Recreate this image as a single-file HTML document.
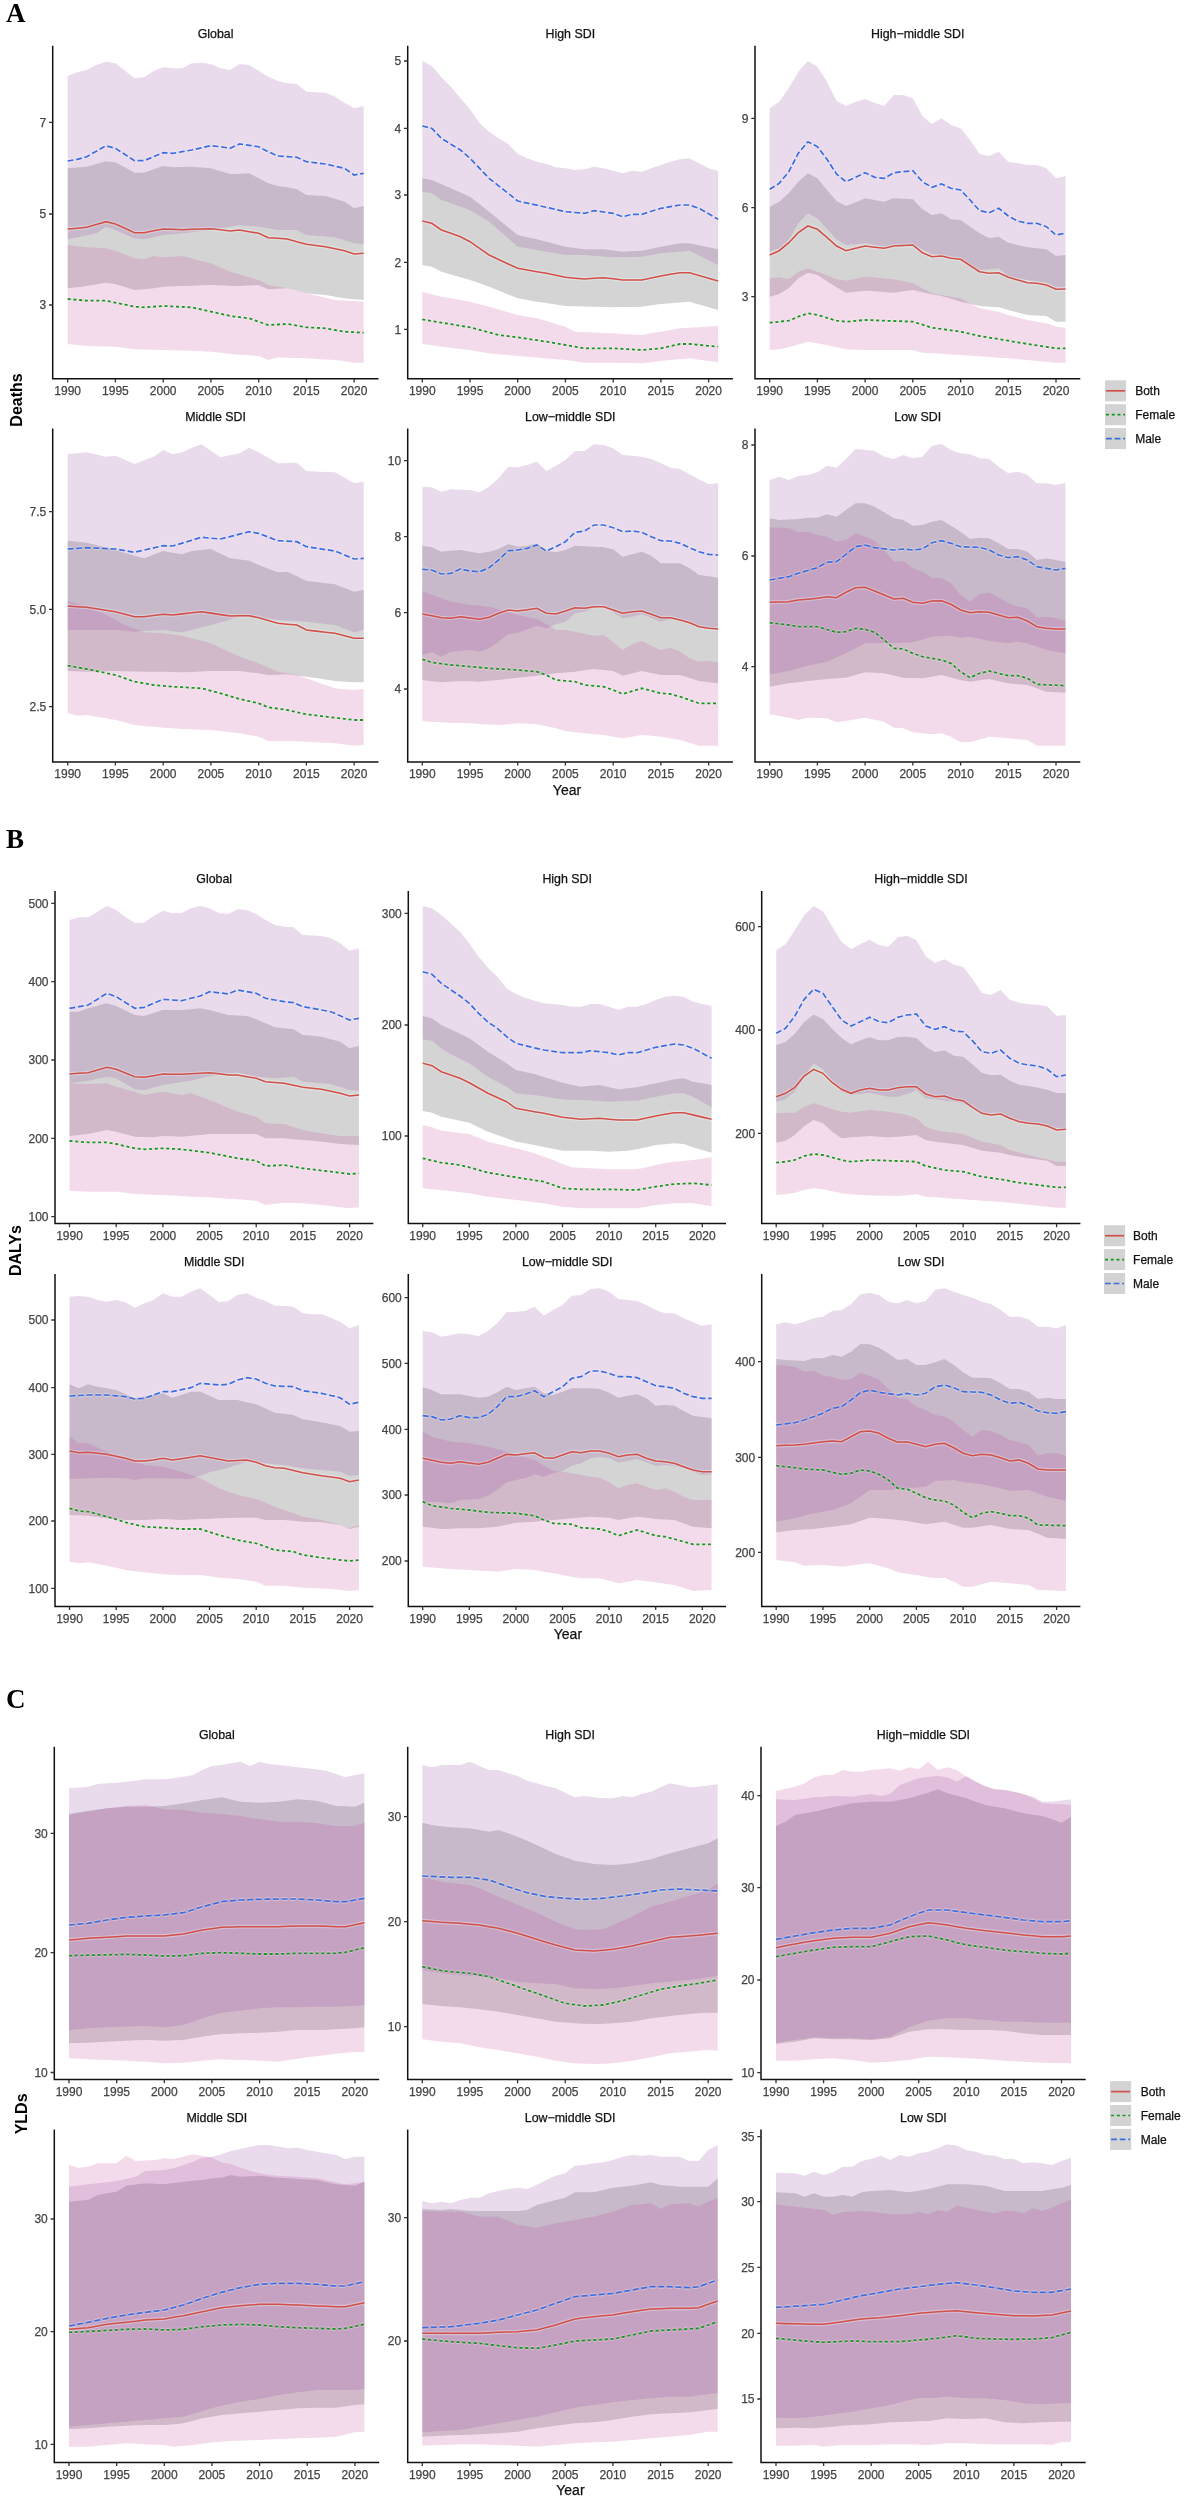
<!DOCTYPE html>
<html><head><meta charset="utf-8"><title>Figure</title><style>
html,body{margin:0;padding:0;background:#fff;}
body{width:1185px;height:2500px;position:relative;overflow:hidden;}
text{font-family:"Liberation Sans",sans-serif;}
.tl{font-size:12px;fill:#444;stroke:#444;stroke-width:0.25px;}
.tt{font-size:12.4px;fill:#111;stroke:#111;stroke-width:0.25px;}
.sl{font-family:"Liberation Serif",serif;font-weight:bold;font-size:27px;fill:#000;}
.yl{font-size:16px;font-weight:bold;fill:#000;}
.xl{font-size:14px;fill:#111;stroke:#111;stroke-width:0.25px;}
.lg{font-size:12px;fill:#111;stroke:#111;stroke-width:0.25px;}
</style></head>
<body>
<svg width="1185" height="2500" viewBox="0 0 1185 2500" style="position:absolute;left:0;top:0;will-change:transform"><g><polygon points="67.7,168.3 77.2,167.5 86.8,166.7 96.3,164.0 105.9,161.3 115.4,162.3 125.0,167.5 134.5,172.7 144.1,172.7 153.6,169.3 163.2,166.0 172.7,167.3 182.3,167.0 191.8,166.7 201.4,167.5 210.9,168.3 220.5,171.2 230.0,174.0 239.6,173.7 249.1,173.3 258.7,178.3 268.2,183.3 277.8,186.0 287.3,187.3 296.9,189.3 306.4,195.0 315.9,195.5 325.5,196.0 335.0,198.8 344.6,201.7 354.1,208.3 363.7,206.0 363.7,300.0 354.1,299.2 344.6,298.3 335.0,296.7 325.5,295.0 315.9,294.2 306.4,293.3 296.9,290.8 287.3,288.3 277.8,288.8 268.2,289.3 258.7,285.0 249.1,285.5 239.6,286.0 230.0,285.7 220.5,285.3 210.9,285.0 201.4,285.3 191.8,285.7 182.3,286.0 172.7,286.3 163.2,286.7 153.6,288.3 144.1,289.2 134.5,290.0 125.0,287.0 115.4,284.0 105.9,282.7 96.3,284.3 86.8,286.0 77.2,287.2 67.7,288.3" fill="#262626" fill-opacity="0.2"/><polygon points="67.7,245.0 77.2,246.2 86.8,247.3 96.3,247.8 105.9,248.3 115.4,250.7 125.0,254.5 134.5,258.3 144.1,259.3 153.6,256.0 163.2,257.3 172.7,256.7 182.3,256.0 191.8,258.4 201.4,260.9 210.9,263.3 220.5,267.5 230.0,271.7 239.6,274.4 249.1,277.2 258.7,280.0 268.2,285.0 277.8,286.7 287.3,288.3 296.9,290.8 306.4,293.3 315.9,295.6 325.5,297.8 335.0,300.0 344.6,300.6 354.1,301.1 363.7,301.7 363.7,362.7 354.1,362.7 344.6,361.3 335.0,360.0 325.5,359.4 315.9,358.9 306.4,358.3 296.9,358.0 287.3,357.7 277.8,357.3 268.2,360.0 258.7,356.0 249.1,355.3 239.6,354.7 230.0,354.0 220.5,352.8 210.9,351.7 201.4,351.2 191.8,350.7 182.3,350.4 172.7,350.2 163.2,350.0 153.6,349.8 144.1,349.6 134.5,349.3 125.0,348.0 115.4,346.7 105.9,346.4 96.3,346.2 86.8,346.0 77.2,345.0 67.7,344.0" fill="#c84b9b" fill-opacity="0.2"/><polygon points="67.7,76.0 77.2,72.3 86.8,70.0 96.3,65.0 105.9,61.7 115.4,63.3 125.0,70.7 134.5,78.3 144.1,77.3 153.6,71.0 163.2,67.3 172.7,68.3 182.3,68.3 191.8,63.3 201.4,62.7 210.9,64.0 220.5,68.3 230.0,70.0 239.6,64.0 249.1,65.0 258.7,70.7 268.2,76.7 277.8,81.0 287.3,83.3 296.9,84.0 306.4,91.7 315.9,92.2 325.5,92.7 335.0,96.7 344.6,102.7 354.1,108.3 363.7,106.0 363.7,244.3 354.1,243.3 344.6,240.3 335.0,237.3 325.5,236.6 315.9,235.8 306.4,235.0 296.9,230.0 287.3,230.0 277.8,230.0 268.2,228.3 258.7,226.7 249.1,225.8 239.6,225.0 230.0,226.7 220.5,228.3 210.9,230.0 201.4,231.1 191.8,232.2 182.3,233.3 172.7,234.2 163.2,235.0 153.6,237.2 144.1,239.3 134.5,238.3 125.0,234.2 115.4,230.0 105.9,226.7 96.3,233.3 86.8,235.3 77.2,237.3 67.7,239.3" fill="#9048a0" fill-opacity="0.2"/><polyline points="67.7,229.0 77.2,228.2 86.8,227.3 96.3,224.5 105.9,221.7 115.4,224.0 125.0,228.3 134.5,232.7 144.1,232.7 153.6,230.8 163.2,229.0 172.7,229.3 182.3,229.7 191.8,229.3 201.4,229.0 210.9,228.7 220.5,229.8 230.0,231.0 239.6,230.0 249.1,231.7 258.7,233.3 268.2,237.7 277.8,238.3 287.3,239.0 296.9,241.7 306.4,244.3 315.9,245.5 325.5,246.7 335.0,248.7 344.6,250.7 354.1,254.0 363.7,253.3" fill="none" stroke="#fff" stroke-opacity="0.3" stroke-width="3.8000000000000003"/><polyline points="67.7,229.0 77.2,228.2 86.8,227.3 96.3,224.5 105.9,221.7 115.4,224.0 125.0,228.3 134.5,232.7 144.1,232.7 153.6,230.8 163.2,229.0 172.7,229.3 182.3,229.7 191.8,229.3 201.4,229.0 210.9,228.7 220.5,229.8 230.0,231.0 239.6,230.0 249.1,231.7 258.7,233.3 268.2,237.7 277.8,238.3 287.3,239.0 296.9,241.7 306.4,244.3 315.9,245.5 325.5,246.7 335.0,248.7 344.6,250.7 354.1,254.0 363.7,253.3" fill="none" stroke="#d0504a" stroke-width="1.6"/><polyline points="67.7,299.0 77.2,299.8 86.8,300.7 96.3,300.7 105.9,300.7 115.4,302.7 125.0,304.7 134.5,306.7 144.1,307.3 153.6,306.7 163.2,306.0 172.7,306.4 182.3,306.9 191.8,307.3 201.4,309.5 210.9,311.7 220.5,313.8 230.0,316.0 239.6,317.2 249.1,318.3 258.7,321.7 268.2,325.0 277.8,324.5 287.3,324.0 296.9,325.7 306.4,327.3 315.9,327.8 325.5,328.3 335.0,330.0 344.6,331.7 354.1,332.2 363.7,332.7" fill="none" stroke="#fff" stroke-opacity="0.3" stroke-width="4.0" stroke-dasharray="3,2.74"/><polyline points="67.7,299.0 77.2,299.8 86.8,300.7 96.3,300.7 105.9,300.7 115.4,302.7 125.0,304.7 134.5,306.7 144.1,307.3 153.6,306.7 163.2,306.0 172.7,306.4 182.3,306.9 191.8,307.3 201.4,309.5 210.9,311.7 220.5,313.8 230.0,316.0 239.6,317.2 249.1,318.3 258.7,321.7 268.2,325.0 277.8,324.5 287.3,324.0 296.9,325.7 306.4,327.3 315.9,327.8 325.5,328.3 335.0,330.0 344.6,331.7 354.1,332.2 363.7,332.7" fill="none" stroke="#16961e" stroke-width="1.8" stroke-dasharray="3,2.74"/><polyline points="67.7,161.0 77.2,159.3 86.8,156.7 96.3,151.2 105.9,145.7 115.4,148.3 125.0,154.5 134.5,160.7 144.1,160.7 153.6,156.7 163.2,152.7 172.7,153.3 182.3,151.7 191.8,150.0 201.4,147.8 210.9,145.7 220.5,146.7 230.0,148.3 239.6,144.0 249.1,145.3 258.7,146.7 268.2,151.7 277.8,156.0 287.3,156.7 296.9,157.3 306.4,161.7 315.9,162.8 325.5,164.0 335.0,166.2 344.6,168.3 354.1,175.0 363.7,173.3" fill="none" stroke="#fff" stroke-opacity="0.3" stroke-width="3.9000000000000004" stroke-dasharray="5.8,2.8"/><polyline points="67.7,161.0 77.2,159.3 86.8,156.7 96.3,151.2 105.9,145.7 115.4,148.3 125.0,154.5 134.5,160.7 144.1,160.7 153.6,156.7 163.2,152.7 172.7,153.3 182.3,151.7 191.8,150.0 201.4,147.8 210.9,145.7 220.5,146.7 230.0,148.3 239.6,144.0 249.1,145.3 258.7,146.7 268.2,151.7 277.8,156.0 287.3,156.7 296.9,157.3 306.4,161.7 315.9,162.8 325.5,164.0 335.0,166.2 344.6,168.3 354.1,175.0 363.7,173.3" fill="none" stroke="#3a6ee0" stroke-width="1.7" stroke-dasharray="5.8,2.8"/><path d="M52.7,45.7 V378.8 H378.5" fill="none" stroke="#111" stroke-width="1.5" stroke-linecap="butt" stroke-linejoin="miter"/><text x="67.7" y="395.1" class="tl" text-anchor="middle">1990</text><text x="115.4" y="395.1" class="tl" text-anchor="middle">1995</text><text x="163.2" y="395.1" class="tl" text-anchor="middle">2000</text><text x="210.9" y="395.1" class="tl" text-anchor="middle">2005</text><text x="258.7" y="395.1" class="tl" text-anchor="middle">2010</text><text x="306.4" y="395.1" class="tl" text-anchor="middle">2015</text><text x="354.1" y="395.1" class="tl" text-anchor="middle">2020</text><text x="46.2" y="126.6" class="tl" text-anchor="end">7</text><text x="46.2" y="218.3" class="tl" text-anchor="end">5</text><text x="46.2" y="309.3" class="tl" text-anchor="end">3</text><path d="M67.7,378.8 v3.7 M115.4,378.8 v3.7 M163.2,378.8 v3.7 M210.9,378.8 v3.7 M258.7,378.8 v3.7 M306.4,378.8 v3.7 M354.1,378.8 v3.7 M52.7,122.3 h-3.7 M52.7,214.0 h-3.7 M52.7,305.0 h-3.7" stroke="#333" stroke-width="1.3"/><text x="215.6" y="37.6" class="tt" text-anchor="middle">Global</text></g><g><polygon points="422.3,178.3 431.8,180.0 441.4,184.2 450.9,188.3 460.5,192.5 470.0,196.7 479.6,204.2 489.1,211.7 498.6,219.4 508.2,227.2 517.7,235.0 527.3,237.2 536.8,239.3 546.4,241.8 555.9,244.2 565.4,246.7 575.0,248.0 584.5,249.3 594.1,249.3 603.6,249.3 613.2,250.5 622.7,251.7 632.2,251.2 641.8,250.7 651.3,248.7 660.9,246.7 670.4,245.0 680.0,243.3 689.5,243.3 699.0,245.3 708.6,247.3 718.1,249.3 718.1,310.0 708.6,307.2 699.0,304.4 689.5,301.7 680.0,302.4 670.4,303.2 660.9,304.0 651.3,305.3 641.8,306.7 632.2,306.9 622.7,307.1 613.2,307.3 603.6,307.0 594.1,306.7 584.5,306.4 575.0,306.2 565.4,306.0 555.9,304.6 546.4,303.1 536.8,301.7 527.3,300.0 517.7,298.3 508.2,294.4 498.6,290.6 489.1,286.7 479.6,283.3 470.0,280.0 460.5,277.2 450.9,274.4 441.4,271.7 431.8,266.7 422.3,265.0" fill="#262626" fill-opacity="0.2"/><polygon points="422.3,291.7 431.8,294.2 441.4,296.7 450.9,298.3 460.5,300.0 470.0,301.7 479.6,304.2 489.1,306.7 498.6,309.4 508.2,312.2 517.7,315.0 527.3,316.7 536.8,318.3 546.4,321.1 555.9,323.9 565.4,326.7 575.0,331.7 584.5,332.1 594.1,332.5 603.6,332.9 613.2,333.3 622.7,333.9 632.2,334.4 641.8,335.0 651.3,333.3 660.9,331.7 670.4,330.0 680.0,328.3 689.5,327.8 699.0,327.2 708.6,326.6 718.1,326.0 718.1,362.3 708.6,361.0 699.0,359.7 689.5,358.3 680.0,359.2 670.4,360.0 660.9,361.1 651.3,362.2 641.8,363.3 632.2,363.1 622.7,362.9 613.2,362.7 603.6,362.7 594.1,362.7 584.5,362.7 575.0,361.3 565.4,360.0 555.9,359.2 546.4,358.4 536.8,357.6 527.3,356.8 517.7,356.0 508.2,355.1 498.6,354.2 489.1,353.3 479.6,351.7 470.0,350.0 460.5,348.9 450.9,347.8 441.4,346.7 431.8,345.3 422.3,344.0" fill="#c84b9b" fill-opacity="0.2"/><polygon points="422.3,61.0 431.8,66.0 441.4,77.3 450.9,86.7 460.5,98.3 470.0,109.3 479.6,123.3 489.1,131.7 498.6,138.3 508.2,144.0 517.7,154.0 527.3,158.3 536.8,161.7 546.4,164.0 555.9,167.3 565.4,168.3 575.0,170.0 584.5,169.3 594.1,166.7 603.6,168.3 613.2,170.7 622.7,173.3 632.2,170.7 641.8,171.7 651.3,168.3 660.9,165.0 670.4,161.7 680.0,159.3 689.5,158.3 699.0,163.3 708.6,168.3 718.1,171.0 718.1,265.0 708.6,260.2 699.0,255.4 689.5,250.7 680.0,251.6 670.4,252.4 660.9,253.3 651.3,255.0 641.8,256.7 632.2,256.9 622.7,257.1 613.2,257.3 603.6,256.6 594.1,255.8 584.5,255.0 575.0,255.0 565.4,255.0 555.9,253.3 546.4,251.7 536.8,250.0 527.3,248.3 517.7,246.7 508.2,238.3 498.6,230.0 489.1,221.7 479.6,215.8 470.0,210.0 460.5,206.7 450.9,203.3 441.4,200.0 431.8,193.3 422.3,191.7" fill="#9048a0" fill-opacity="0.2"/><polyline points="422.3,221.0 431.8,223.3 441.4,230.0 450.9,233.3 460.5,236.7 470.0,241.7 479.6,248.3 489.1,255.0 498.6,259.5 508.2,264.0 517.7,268.3 527.3,270.0 536.8,271.7 546.4,273.3 555.9,275.3 565.4,277.3 575.0,278.2 584.5,279.0 594.1,278.3 603.6,277.7 613.2,278.8 622.7,280.0 632.2,280.0 641.8,280.0 651.3,278.0 660.9,276.0 670.4,274.3 680.0,272.7 689.5,272.7 699.0,275.4 708.6,278.2 718.1,281.0" fill="none" stroke="#fff" stroke-opacity="0.3" stroke-width="3.8000000000000003"/><polyline points="422.3,221.0 431.8,223.3 441.4,230.0 450.9,233.3 460.5,236.7 470.0,241.7 479.6,248.3 489.1,255.0 498.6,259.5 508.2,264.0 517.7,268.3 527.3,270.0 536.8,271.7 546.4,273.3 555.9,275.3 565.4,277.3 575.0,278.2 584.5,279.0 594.1,278.3 603.6,277.7 613.2,278.8 622.7,280.0 632.2,280.0 641.8,280.0 651.3,278.0 660.9,276.0 670.4,274.3 680.0,272.7 689.5,272.7 699.0,275.4 708.6,278.2 718.1,281.0" fill="none" stroke="#d0504a" stroke-width="1.6"/><polyline points="422.3,319.3 431.8,321.0 441.4,322.7 450.9,324.2 460.5,325.8 470.0,327.3 479.6,329.9 489.1,332.4 498.6,335.0 508.2,336.2 517.7,337.3 527.3,338.8 536.8,340.2 546.4,341.7 555.9,343.3 565.4,345.0 575.0,346.7 584.5,348.3 594.1,348.3 603.6,348.3 613.2,348.3 622.7,348.9 632.2,349.4 641.8,350.0 651.3,349.2 660.9,348.3 670.4,346.2 680.0,344.0 689.5,344.0 699.0,344.9 708.6,345.8 718.1,346.7" fill="none" stroke="#fff" stroke-opacity="0.3" stroke-width="4.0" stroke-dasharray="3,2.74"/><polyline points="422.3,319.3 431.8,321.0 441.4,322.7 450.9,324.2 460.5,325.8 470.0,327.3 479.6,329.9 489.1,332.4 498.6,335.0 508.2,336.2 517.7,337.3 527.3,338.8 536.8,340.2 546.4,341.7 555.9,343.3 565.4,345.0 575.0,346.7 584.5,348.3 594.1,348.3 603.6,348.3 613.2,348.3 622.7,348.9 632.2,349.4 641.8,350.0 651.3,349.2 660.9,348.3 670.4,346.2 680.0,344.0 689.5,344.0 699.0,344.9 708.6,345.8 718.1,346.7" fill="none" stroke="#16961e" stroke-width="1.8" stroke-dasharray="3,2.74"/><polyline points="422.3,126.0 431.8,128.3 441.4,138.3 450.9,144.2 460.5,150.0 470.0,158.3 479.6,168.3 489.1,178.3 498.6,185.8 508.2,193.3 517.7,201.0 527.3,203.1 536.8,205.2 546.4,207.3 555.9,209.5 565.4,211.7 575.0,212.5 584.5,213.3 594.1,210.7 603.6,212.0 613.2,213.3 622.7,216.7 632.2,214.3 641.8,214.3 651.3,211.3 660.9,208.3 670.4,206.7 680.0,205.0 689.5,205.0 699.0,208.3 708.6,213.8 718.1,219.3" fill="none" stroke="#fff" stroke-opacity="0.3" stroke-width="3.9000000000000004" stroke-dasharray="5.8,2.8"/><polyline points="422.3,126.0 431.8,128.3 441.4,138.3 450.9,144.2 460.5,150.0 470.0,158.3 479.6,168.3 489.1,178.3 498.6,185.8 508.2,193.3 517.7,201.0 527.3,203.1 536.8,205.2 546.4,207.3 555.9,209.5 565.4,211.7 575.0,212.5 584.5,213.3 594.1,210.7 603.6,212.0 613.2,213.3 622.7,216.7 632.2,214.3 641.8,214.3 651.3,211.3 660.9,208.3 670.4,206.7 680.0,205.0 689.5,205.0 699.0,208.3 708.6,213.8 718.1,219.3" fill="none" stroke="#3a6ee0" stroke-width="1.7" stroke-dasharray="5.8,2.8"/><path d="M407.7,45.7 V378.8 H732.9" fill="none" stroke="#111" stroke-width="1.5" stroke-linecap="butt" stroke-linejoin="miter"/><text x="422.3" y="395.1" class="tl" text-anchor="middle">1990</text><text x="470.0" y="395.1" class="tl" text-anchor="middle">1995</text><text x="517.7" y="395.1" class="tl" text-anchor="middle">2000</text><text x="565.4" y="395.1" class="tl" text-anchor="middle">2005</text><text x="613.2" y="395.1" class="tl" text-anchor="middle">2010</text><text x="660.9" y="395.1" class="tl" text-anchor="middle">2015</text><text x="708.6" y="395.1" class="tl" text-anchor="middle">2020</text><text x="401.2" y="65.3" class="tl" text-anchor="end">5</text><text x="401.2" y="132.6" class="tl" text-anchor="end">4</text><text x="401.2" y="199.3" class="tl" text-anchor="end">3</text><text x="401.2" y="266.6" class="tl" text-anchor="end">2</text><text x="401.2" y="333.6" class="tl" text-anchor="end">1</text><path d="M422.3,378.8 v3.7 M470.0,378.8 v3.7 M517.7,378.8 v3.7 M565.4,378.8 v3.7 M613.2,378.8 v3.7 M660.9,378.8 v3.7 M708.6,378.8 v3.7 M407.7,61.0 h-3.7 M407.7,128.3 h-3.7 M407.7,195.0 h-3.7 M407.7,262.3 h-3.7 M407.7,329.3 h-3.7" stroke="#333" stroke-width="1.3"/><text x="570.3" y="37.6" class="tt" text-anchor="middle">High SDI</text></g><g><polygon points="769.7,206.7 779.2,201.7 788.8,193.3 798.3,181.7 807.9,173.3 817.4,178.3 827.0,190.0 836.5,201.0 846.0,206.0 855.6,202.2 865.1,198.3 874.7,200.0 884.2,201.7 893.8,198.3 903.3,198.8 912.8,199.3 922.4,209.3 931.9,215.0 941.5,213.3 951.0,219.3 960.6,220.0 970.1,226.7 979.6,233.3 989.2,238.3 998.7,236.7 1008.3,242.7 1017.8,245.0 1027.4,247.3 1036.9,248.3 1046.4,249.3 1056.0,256.0 1065.5,255.0 1065.5,321.7 1056.0,321.7 1046.4,316.0 1036.9,315.5 1027.4,315.0 1017.8,312.5 1008.3,310.0 998.7,307.3 989.2,306.7 979.6,306.0 970.1,303.8 960.6,301.7 951.0,298.8 941.5,296.0 931.9,294.3 922.4,292.2 912.8,290.0 903.3,291.3 893.8,292.7 884.2,292.0 874.7,291.3 865.1,290.7 855.6,291.7 846.0,292.7 836.5,287.3 827.0,281.2 817.4,275.0 807.9,272.7 798.3,278.3 788.8,288.3 779.2,294.0 769.7,296.7" fill="#262626" fill-opacity="0.2"/><polygon points="769.7,278.3 779.2,277.3 788.8,279.3 798.3,271.7 807.9,268.3 817.4,271.7 827.0,275.5 836.5,279.3 846.0,280.7 855.6,278.7 865.1,276.7 874.7,277.6 884.2,278.4 893.8,279.3 903.3,281.3 912.8,283.3 922.4,288.3 931.9,293.3 941.5,295.0 951.0,296.7 960.6,298.3 970.1,303.3 979.6,308.3 989.2,310.0 998.7,311.7 1008.3,315.0 1017.8,317.5 1027.4,320.0 1036.9,321.7 1046.4,323.3 1056.0,326.7 1065.5,327.7 1065.5,362.7 1056.0,362.7 1046.4,361.8 1036.9,360.9 1027.4,360.1 1017.8,359.2 1008.3,358.3 998.7,357.7 989.2,357.0 979.6,356.3 970.1,355.7 960.6,355.0 951.0,354.4 941.5,353.8 931.9,353.2 922.4,352.7 912.8,350.0 903.3,350.0 893.8,350.0 884.2,350.0 874.7,350.0 865.1,350.0 855.6,349.7 846.0,349.3 836.5,347.3 827.0,345.3 817.4,343.3 807.9,341.7 798.3,344.5 788.8,347.3 779.2,349.3 769.7,350.0" fill="#c84b9b" fill-opacity="0.2"/><polygon points="769.7,108.3 779.2,101.7 788.8,88.3 798.3,71.7 807.9,61.0 817.4,66.7 827.0,81.7 836.5,100.7 846.0,106.0 855.6,101.7 865.1,99.0 874.7,102.7 884.2,106.0 893.8,95.0 903.3,95.0 912.8,98.3 922.4,116.0 931.9,124.0 941.5,118.3 951.0,125.0 960.6,128.3 970.1,140.0 979.6,154.0 989.2,156.0 998.7,151.7 1008.3,161.7 1017.8,163.3 1027.4,165.0 1036.9,165.0 1046.4,168.3 1056.0,178.3 1065.5,176.0 1065.5,287.3 1056.0,287.3 1046.4,282.7 1036.9,281.3 1027.4,280.0 1017.8,278.3 1008.3,276.7 998.7,268.3 989.2,269.3 979.6,270.0 970.1,264.2 960.6,258.3 951.0,256.7 941.5,255.0 931.9,254.3 922.4,249.7 912.8,245.0 903.3,245.0 893.8,245.0 884.2,246.7 874.7,245.0 865.1,243.3 855.6,244.2 846.0,245.0 836.5,239.3 827.0,228.8 817.4,218.3 807.9,213.3 798.3,223.3 788.8,240.0 779.2,248.3 769.7,251.7" fill="#9048a0" fill-opacity="0.2"/><polyline points="769.7,255.0 779.2,250.7 788.8,242.7 798.3,232.7 807.9,226.0 817.4,229.3 827.0,237.3 836.5,246.0 846.0,250.7 855.6,248.3 865.1,246.0 874.7,247.2 884.2,248.3 893.8,246.0 903.3,245.5 912.8,245.0 922.4,252.7 931.9,256.7 941.5,256.0 951.0,258.3 960.6,259.3 970.1,265.5 979.6,271.7 989.2,273.3 998.7,272.7 1008.3,277.3 1017.8,280.0 1027.4,282.7 1036.9,283.3 1046.4,285.0 1056.0,289.3 1065.5,289.0" fill="none" stroke="#fff" stroke-opacity="0.3" stroke-width="3.8000000000000003"/><polyline points="769.7,255.0 779.2,250.7 788.8,242.7 798.3,232.7 807.9,226.0 817.4,229.3 827.0,237.3 836.5,246.0 846.0,250.7 855.6,248.3 865.1,246.0 874.7,247.2 884.2,248.3 893.8,246.0 903.3,245.5 912.8,245.0 922.4,252.7 931.9,256.7 941.5,256.0 951.0,258.3 960.6,259.3 970.1,265.5 979.6,271.7 989.2,273.3 998.7,272.7 1008.3,277.3 1017.8,280.0 1027.4,282.7 1036.9,283.3 1046.4,285.0 1056.0,289.3 1065.5,289.0" fill="none" stroke="#d0504a" stroke-width="1.6"/><polyline points="769.7,322.7 779.2,321.7 788.8,320.7 798.3,316.7 807.9,313.3 817.4,315.0 827.0,317.8 836.5,320.7 846.0,321.7 855.6,320.8 865.1,320.0 874.7,320.3 884.2,320.7 893.8,321.0 903.3,321.3 912.8,321.7 922.4,324.7 931.9,327.7 941.5,329.0 951.0,330.3 960.6,331.7 970.1,333.8 979.6,336.0 989.2,337.6 998.7,339.1 1008.3,340.7 1017.8,342.3 1027.4,344.0 1036.9,345.4 1046.4,346.9 1056.0,348.3 1065.5,348.3" fill="none" stroke="#fff" stroke-opacity="0.3" stroke-width="4.0" stroke-dasharray="3,2.74"/><polyline points="769.7,322.7 779.2,321.7 788.8,320.7 798.3,316.7 807.9,313.3 817.4,315.0 827.0,317.8 836.5,320.7 846.0,321.7 855.6,320.8 865.1,320.0 874.7,320.3 884.2,320.7 893.8,321.0 903.3,321.3 912.8,321.7 922.4,324.7 931.9,327.7 941.5,329.0 951.0,330.3 960.6,331.7 970.1,333.8 979.6,336.0 989.2,337.6 998.7,339.1 1008.3,340.7 1017.8,342.3 1027.4,344.0 1036.9,345.4 1046.4,346.9 1056.0,348.3 1065.5,348.3" fill="none" stroke="#16961e" stroke-width="1.8" stroke-dasharray="3,2.74"/><polyline points="769.7,189.3 779.2,183.3 788.8,171.7 798.3,153.3 807.9,141.7 817.4,146.7 827.0,159.3 836.5,174.0 846.0,181.7 855.6,177.3 865.1,172.7 874.7,177.3 884.2,178.3 893.8,172.7 903.3,171.7 912.8,170.7 922.4,181.7 931.9,187.3 941.5,184.0 951.0,188.3 960.6,190.0 970.1,200.0 979.6,210.7 989.2,212.7 998.7,208.3 1008.3,216.0 1017.8,221.0 1027.4,223.3 1036.9,223.3 1046.4,226.7 1056.0,235.0 1065.5,233.3" fill="none" stroke="#fff" stroke-opacity="0.3" stroke-width="3.9000000000000004" stroke-dasharray="5.8,2.8"/><polyline points="769.7,189.3 779.2,183.3 788.8,171.7 798.3,153.3 807.9,141.7 817.4,146.7 827.0,159.3 836.5,174.0 846.0,181.7 855.6,177.3 865.1,172.7 874.7,177.3 884.2,178.3 893.8,172.7 903.3,171.7 912.8,170.7 922.4,181.7 931.9,187.3 941.5,184.0 951.0,188.3 960.6,190.0 970.1,200.0 979.6,210.7 989.2,212.7 998.7,208.3 1008.3,216.0 1017.8,221.0 1027.4,223.3 1036.9,223.3 1046.4,226.7 1056.0,235.0 1065.5,233.3" fill="none" stroke="#3a6ee0" stroke-width="1.7" stroke-dasharray="5.8,2.8"/><path d="M755.0,45.7 V378.8 H1080.3" fill="none" stroke="#111" stroke-width="1.5" stroke-linecap="butt" stroke-linejoin="miter"/><text x="769.7" y="395.1" class="tl" text-anchor="middle">1990</text><text x="817.4" y="395.1" class="tl" text-anchor="middle">1995</text><text x="865.1" y="395.1" class="tl" text-anchor="middle">2000</text><text x="912.8" y="395.1" class="tl" text-anchor="middle">2005</text><text x="960.6" y="395.1" class="tl" text-anchor="middle">2010</text><text x="1008.3" y="395.1" class="tl" text-anchor="middle">2015</text><text x="1056.0" y="395.1" class="tl" text-anchor="middle">2020</text><text x="748.5" y="122.6" class="tl" text-anchor="end">9</text><text x="748.5" y="212.0" class="tl" text-anchor="end">6</text><text x="748.5" y="301.0" class="tl" text-anchor="end">3</text><path d="M769.7,378.8 v3.7 M817.4,378.8 v3.7 M865.1,378.8 v3.7 M912.8,378.8 v3.7 M960.6,378.8 v3.7 M1008.3,378.8 v3.7 M1056.0,378.8 v3.7 M755.0,118.3 h-3.7 M755.0,207.7 h-3.7 M755.0,296.7 h-3.7" stroke="#333" stroke-width="1.3"/><text x="917.7" y="37.6" class="tt" text-anchor="middle">High−middle SDI</text></g><g><polygon points="67.7,540.7 77.2,541.7 86.8,542.7 96.3,545.1 105.9,547.6 115.4,550.0 125.0,552.8 134.5,555.7 144.1,558.3 153.6,554.7 163.2,551.0 172.7,552.7 182.3,554.3 191.8,551.0 201.4,550.0 210.9,549.0 220.5,553.7 230.0,558.3 239.6,559.5 249.1,560.7 258.7,565.0 268.2,568.7 277.8,572.3 287.3,571.7 296.9,576.3 306.4,581.0 315.9,582.1 325.5,583.2 335.0,584.3 344.6,588.0 354.1,591.7 363.7,590.0 363.7,682.3 354.1,682.3 344.6,681.7 335.0,681.0 325.5,679.6 315.9,678.1 306.4,676.7 296.9,675.5 287.3,674.3 277.8,674.7 268.2,675.0 258.7,673.3 249.1,672.2 239.6,671.0 230.0,671.0 220.5,671.0 210.9,671.0 201.4,671.4 191.8,671.9 182.3,672.3 172.7,672.0 163.2,671.7 153.6,671.7 144.1,671.7 134.5,671.4 125.0,671.2 115.4,671.0 105.9,671.2 96.3,671.4 86.8,671.7 77.2,671.3 67.7,671.0" fill="#262626" fill-opacity="0.2"/><polygon points="67.7,601.0 77.2,603.8 86.8,606.7 96.3,610.8 105.9,615.0 115.4,620.0 125.0,625.0 134.5,628.7 144.1,632.3 153.6,632.8 163.2,633.3 172.7,634.5 182.3,635.7 191.8,638.2 201.4,640.8 210.9,643.3 220.5,647.8 230.0,652.2 239.6,656.7 249.1,660.0 258.7,663.3 268.2,667.5 277.8,671.7 287.3,673.3 296.9,675.0 306.4,678.3 315.9,681.7 325.5,685.0 335.0,688.3 344.6,689.2 354.1,690.0 363.7,689.0 363.7,745.0 354.1,745.7 344.6,744.5 335.0,743.3 325.5,742.8 315.9,742.2 306.4,741.7 296.9,741.3 287.3,741.0 277.8,741.0 268.2,741.0 258.7,736.7 249.1,735.0 239.6,733.3 230.0,732.2 220.5,731.1 210.9,730.0 201.4,729.7 191.8,729.3 182.3,729.0 172.7,728.3 163.2,727.7 153.6,726.8 144.1,725.9 134.5,725.0 125.0,722.5 115.4,720.0 105.9,718.3 96.3,716.7 86.8,715.0 77.2,715.7 67.7,713.3" fill="#c84b9b" fill-opacity="0.2"/><polygon points="67.7,454.0 77.2,453.2 86.8,452.3 96.3,454.5 105.9,456.7 115.4,455.7 125.0,459.8 134.5,464.0 144.1,460.3 153.6,456.7 163.2,450.0 172.7,454.3 182.3,452.3 191.8,447.7 201.4,444.3 210.9,450.8 220.5,457.3 230.0,455.3 239.6,453.3 249.1,447.7 258.7,452.3 268.2,457.8 277.8,463.3 287.3,463.0 296.9,462.7 306.4,471.0 315.9,471.4 325.5,471.9 335.0,472.3 344.6,477.8 354.1,483.3 363.7,481.7 363.7,630.0 354.1,632.3 344.6,628.7 335.0,625.0 325.5,623.9 315.9,622.8 306.4,621.7 296.9,621.1 287.3,620.6 277.8,620.0 268.2,618.8 258.7,617.7 249.1,617.2 239.6,616.7 230.0,619.4 220.5,622.2 210.9,625.0 201.4,627.4 191.8,629.9 182.3,632.3 172.7,631.2 163.2,630.0 153.6,630.6 144.1,631.1 134.5,631.7 125.0,630.8 115.4,630.0 105.9,630.0 96.3,630.0 86.8,630.0 77.2,630.0 67.7,630.0" fill="#9048a0" fill-opacity="0.2"/><polyline points="67.7,606.0 77.2,606.7 86.8,607.3 96.3,608.8 105.9,610.2 115.4,611.7 125.0,614.2 134.5,616.7 144.1,616.7 153.6,615.5 163.2,614.3 172.7,615.0 182.3,613.9 191.8,612.8 201.4,611.7 210.9,613.1 220.5,614.6 230.0,616.0 239.6,615.8 249.1,615.7 258.7,617.7 268.2,620.5 277.8,623.3 287.3,624.2 296.9,625.0 306.4,630.0 315.9,631.1 325.5,632.2 335.0,633.3 344.6,635.8 354.1,638.3 363.7,638.3" fill="none" stroke="#fff" stroke-opacity="0.3" stroke-width="3.8000000000000003"/><polyline points="67.7,606.0 77.2,606.7 86.8,607.3 96.3,608.8 105.9,610.2 115.4,611.7 125.0,614.2 134.5,616.7 144.1,616.7 153.6,615.5 163.2,614.3 172.7,615.0 182.3,613.9 191.8,612.8 201.4,611.7 210.9,613.1 220.5,614.6 230.0,616.0 239.6,615.8 249.1,615.7 258.7,617.7 268.2,620.5 277.8,623.3 287.3,624.2 296.9,625.0 306.4,630.0 315.9,631.1 325.5,632.2 335.0,633.3 344.6,635.8 354.1,638.3 363.7,638.3" fill="none" stroke="#d0504a" stroke-width="1.6"/><polyline points="67.7,665.7 77.2,667.3 86.8,669.0 96.3,671.0 105.9,673.0 115.4,675.0 125.0,678.3 134.5,681.7 144.1,683.3 153.6,685.0 163.2,685.8 172.7,686.7 182.3,687.2 191.8,687.8 201.4,688.3 210.9,690.8 220.5,693.3 230.0,696.2 239.6,699.0 249.1,701.2 258.7,703.3 268.2,707.3 277.8,708.7 287.3,710.0 296.9,712.2 306.4,714.3 315.9,715.4 325.5,716.6 335.0,717.7 344.6,718.8 354.1,720.0 363.7,720.0" fill="none" stroke="#fff" stroke-opacity="0.3" stroke-width="4.0" stroke-dasharray="3,2.74"/><polyline points="67.7,665.7 77.2,667.3 86.8,669.0 96.3,671.0 105.9,673.0 115.4,675.0 125.0,678.3 134.5,681.7 144.1,683.3 153.6,685.0 163.2,685.8 172.7,686.7 182.3,687.2 191.8,687.8 201.4,688.3 210.9,690.8 220.5,693.3 230.0,696.2 239.6,699.0 249.1,701.2 258.7,703.3 268.2,707.3 277.8,708.7 287.3,710.0 296.9,712.2 306.4,714.3 315.9,715.4 325.5,716.6 335.0,717.7 344.6,718.8 354.1,720.0 363.7,720.0" fill="none" stroke="#16961e" stroke-width="1.8" stroke-dasharray="3,2.74"/><polyline points="67.7,549.0 77.2,548.3 86.8,547.7 96.3,548.1 105.9,548.6 115.4,549.0 125.0,550.7 134.5,552.3 144.1,550.1 153.6,547.9 163.2,545.7 172.7,546.0 182.3,543.1 191.8,540.2 201.4,537.3 210.9,538.2 220.5,539.0 230.0,536.6 239.6,534.1 249.1,531.7 258.7,533.3 268.2,537.0 277.8,540.7 287.3,541.2 296.9,541.7 306.4,546.7 315.9,548.1 325.5,549.6 335.0,551.0 344.6,555.0 354.1,559.0 363.7,558.3" fill="none" stroke="#fff" stroke-opacity="0.3" stroke-width="3.9000000000000004" stroke-dasharray="5.8,2.8"/><polyline points="67.7,549.0 77.2,548.3 86.8,547.7 96.3,548.1 105.9,548.6 115.4,549.0 125.0,550.7 134.5,552.3 144.1,550.1 153.6,547.9 163.2,545.7 172.7,546.0 182.3,543.1 191.8,540.2 201.4,537.3 210.9,538.2 220.5,539.0 230.0,536.6 239.6,534.1 249.1,531.7 258.7,533.3 268.2,537.0 277.8,540.7 287.3,541.2 296.9,541.7 306.4,546.7 315.9,548.1 325.5,549.6 335.0,551.0 344.6,555.0 354.1,559.0 363.7,558.3" fill="none" stroke="#3a6ee0" stroke-width="1.7" stroke-dasharray="5.8,2.8"/><path d="M52.7,428.6 V761.9 H378.5" fill="none" stroke="#111" stroke-width="1.5" stroke-linecap="butt" stroke-linejoin="miter"/><text x="67.7" y="778.2" class="tl" text-anchor="middle">1990</text><text x="115.4" y="778.2" class="tl" text-anchor="middle">1995</text><text x="163.2" y="778.2" class="tl" text-anchor="middle">2000</text><text x="210.9" y="778.2" class="tl" text-anchor="middle">2005</text><text x="258.7" y="778.2" class="tl" text-anchor="middle">2010</text><text x="306.4" y="778.2" class="tl" text-anchor="middle">2015</text><text x="354.1" y="778.2" class="tl" text-anchor="middle">2020</text><text x="46.2" y="516.0" class="tl" text-anchor="end">7.5</text><text x="46.2" y="613.6" class="tl" text-anchor="end">5.0</text><text x="46.2" y="711.0" class="tl" text-anchor="end">2.5</text><path d="M67.7,761.9 v3.7 M115.4,761.9 v3.7 M163.2,761.9 v3.7 M210.9,761.9 v3.7 M258.7,761.9 v3.7 M306.4,761.9 v3.7 M354.1,761.9 v3.7 M52.7,511.7 h-3.7 M52.7,609.3 h-3.7 M52.7,706.7 h-3.7" stroke="#333" stroke-width="1.3"/><text x="215.6" y="420.5" class="tt" text-anchor="middle">Middle SDI</text></g><g><polygon points="422.3,545.7 431.8,547.3 441.4,551.7 450.9,550.8 460.5,550.0 470.0,551.7 479.6,553.3 489.1,551.7 498.6,549.0 508.2,544.0 517.7,546.7 527.3,545.7 536.8,543.3 546.4,550.7 555.9,552.3 565.4,550.0 575.0,545.7 584.5,546.2 594.1,546.7 603.6,547.3 613.2,549.3 622.7,556.7 632.2,554.3 641.8,551.7 651.3,555.7 660.9,563.3 670.4,563.3 680.0,563.3 689.5,568.3 699.0,575.0 708.6,576.3 718.1,577.7 718.1,683.3 708.6,682.2 699.0,681.0 689.5,678.0 680.0,675.0 670.4,675.0 660.9,675.0 651.3,673.0 641.8,671.0 632.2,673.3 622.7,675.7 613.2,671.0 603.6,670.0 594.1,669.0 584.5,670.3 575.0,671.7 565.4,672.5 555.9,673.3 546.4,674.5 536.8,675.7 527.3,676.7 517.7,677.7 508.2,678.8 498.6,680.0 489.1,680.8 479.6,681.7 470.0,681.3 460.5,681.0 450.9,681.7 441.4,682.3 431.8,681.2 422.3,680.0" fill="#262626" fill-opacity="0.2"/><polygon points="422.3,591.0 431.8,595.0 441.4,598.3 450.9,601.7 460.5,603.3 470.0,605.0 479.6,605.8 489.1,606.7 498.6,609.2 508.2,611.7 517.7,615.0 527.3,617.0 536.8,619.0 546.4,624.3 555.9,630.0 565.4,630.0 575.0,631.7 584.5,633.7 594.1,635.7 603.6,635.0 613.2,642.3 622.7,650.0 632.2,644.3 641.8,641.0 651.3,645.7 660.9,650.0 670.4,647.7 680.0,651.7 689.5,658.3 699.0,661.7 708.6,661.0 718.1,662.3 718.1,745.7 708.6,745.7 699.0,745.7 689.5,742.8 680.0,740.0 670.4,738.3 660.9,736.7 651.3,735.8 641.8,735.0 632.2,736.7 622.7,738.3 613.2,736.7 603.6,735.0 594.1,734.2 584.5,733.3 575.0,732.2 565.4,731.0 555.9,728.3 546.4,726.3 536.8,724.3 527.3,723.8 517.7,723.3 508.2,724.2 498.6,725.0 489.1,724.4 479.6,723.9 470.0,723.3 460.5,723.0 450.9,722.7 441.4,722.3 431.8,721.7 422.3,721.0" fill="#c84b9b" fill-opacity="0.2"/><polygon points="422.3,486.7 431.8,487.3 441.4,491.7 450.9,489.3 460.5,489.7 470.0,490.0 479.6,492.3 489.1,486.7 498.6,478.3 508.2,466.7 517.7,467.3 527.3,465.0 536.8,461.7 546.4,471.0 555.9,465.7 565.4,460.0 575.0,451.0 584.5,451.0 594.1,444.3 603.6,445.0 613.2,448.3 622.7,455.0 632.2,455.8 641.8,456.7 651.3,459.0 660.9,463.3 670.4,467.7 680.0,469.0 689.5,474.3 699.0,479.3 708.6,484.3 718.1,483.3 718.1,627.7 708.6,628.3 699.0,626.7 689.5,623.3 680.0,620.0 670.4,619.0 660.9,621.7 651.3,617.7 641.8,614.3 632.2,616.7 622.7,618.3 613.2,612.3 603.6,606.7 594.1,607.7 584.5,611.7 575.0,613.3 565.4,621.7 555.9,624.3 546.4,628.3 536.8,625.7 527.3,629.3 517.7,632.7 508.2,634.3 498.6,641.7 489.1,648.3 479.6,651.7 470.0,650.0 460.5,651.0 450.9,651.7 441.4,656.7 431.8,652.3 422.3,655.0" fill="#9048a0" fill-opacity="0.2"/><polyline points="422.3,614.0 431.8,615.8 441.4,617.7 450.9,618.3 460.5,616.7 470.0,618.0 479.6,619.3 489.1,617.3 498.6,613.3 508.2,610.0 517.7,611.0 527.3,609.7 536.8,608.3 546.4,613.3 555.9,614.0 565.4,611.0 575.0,607.7 584.5,608.3 594.1,606.7 603.6,606.7 613.2,610.0 622.7,613.3 632.2,611.7 641.8,611.0 651.3,614.3 660.9,617.7 670.4,617.7 680.0,620.0 689.5,622.7 699.0,626.7 708.6,628.3 718.1,629.0" fill="none" stroke="#fff" stroke-opacity="0.3" stroke-width="3.8000000000000003"/><polyline points="422.3,614.0 431.8,615.8 441.4,617.7 450.9,618.3 460.5,616.7 470.0,618.0 479.6,619.3 489.1,617.3 498.6,613.3 508.2,610.0 517.7,611.0 527.3,609.7 536.8,608.3 546.4,613.3 555.9,614.0 565.4,611.0 575.0,607.7 584.5,608.3 594.1,606.7 603.6,606.7 613.2,610.0 622.7,613.3 632.2,611.7 641.8,611.0 651.3,614.3 660.9,617.7 670.4,617.7 680.0,620.0 689.5,622.7 699.0,626.7 708.6,628.3 718.1,629.0" fill="none" stroke="#d0504a" stroke-width="1.6"/><polyline points="422.3,659.3 431.8,662.3 441.4,663.7 450.9,665.0 460.5,665.8 470.0,666.7 479.6,667.5 489.1,668.3 498.6,668.9 508.2,669.4 517.7,670.0 527.3,670.8 536.8,671.7 546.4,675.0 555.9,680.0 565.4,680.8 575.0,681.7 584.5,685.0 594.1,685.8 603.6,686.7 613.2,690.0 622.7,694.0 632.2,691.2 641.8,688.3 651.3,690.8 660.9,693.3 670.4,694.0 680.0,696.7 689.5,700.0 699.0,703.3 708.6,703.3 718.1,703.3" fill="none" stroke="#fff" stroke-opacity="0.3" stroke-width="4.0" stroke-dasharray="3,2.74"/><polyline points="422.3,659.3 431.8,662.3 441.4,663.7 450.9,665.0 460.5,665.8 470.0,666.7 479.6,667.5 489.1,668.3 498.6,668.9 508.2,669.4 517.7,670.0 527.3,670.8 536.8,671.7 546.4,675.0 555.9,680.0 565.4,680.8 575.0,681.7 584.5,685.0 594.1,685.8 603.6,686.7 613.2,690.0 622.7,694.0 632.2,691.2 641.8,688.3 651.3,690.8 660.9,693.3 670.4,694.0 680.0,696.7 689.5,700.0 699.0,703.3 708.6,703.3 718.1,703.3" fill="none" stroke="#16961e" stroke-width="1.8" stroke-dasharray="3,2.74"/><polyline points="422.3,569.3 431.8,570.0 441.4,574.0 450.9,573.3 460.5,569.0 470.0,571.0 479.6,571.7 489.1,567.7 498.6,560.0 508.2,550.7 517.7,550.0 527.3,548.3 536.8,545.0 546.4,551.0 555.9,546.7 565.4,541.7 575.0,532.3 584.5,531.0 594.1,525.0 603.6,525.0 613.2,527.7 622.7,531.7 632.2,531.0 641.8,532.3 651.3,536.7 660.9,540.7 670.4,541.0 680.0,543.3 689.5,547.7 699.0,551.7 708.6,554.3 718.1,555.0" fill="none" stroke="#fff" stroke-opacity="0.3" stroke-width="3.9000000000000004" stroke-dasharray="5.8,2.8"/><polyline points="422.3,569.3 431.8,570.0 441.4,574.0 450.9,573.3 460.5,569.0 470.0,571.0 479.6,571.7 489.1,567.7 498.6,560.0 508.2,550.7 517.7,550.0 527.3,548.3 536.8,545.0 546.4,551.0 555.9,546.7 565.4,541.7 575.0,532.3 584.5,531.0 594.1,525.0 603.6,525.0 613.2,527.7 622.7,531.7 632.2,531.0 641.8,532.3 651.3,536.7 660.9,540.7 670.4,541.0 680.0,543.3 689.5,547.7 699.0,551.7 708.6,554.3 718.1,555.0" fill="none" stroke="#3a6ee0" stroke-width="1.7" stroke-dasharray="5.8,2.8"/><path d="M407.7,428.6 V761.9 H732.9" fill="none" stroke="#111" stroke-width="1.5" stroke-linecap="butt" stroke-linejoin="miter"/><text x="422.3" y="778.2" class="tl" text-anchor="middle">1990</text><text x="470.0" y="778.2" class="tl" text-anchor="middle">1995</text><text x="517.7" y="778.2" class="tl" text-anchor="middle">2000</text><text x="565.4" y="778.2" class="tl" text-anchor="middle">2005</text><text x="613.2" y="778.2" class="tl" text-anchor="middle">2010</text><text x="660.9" y="778.2" class="tl" text-anchor="middle">2015</text><text x="708.6" y="778.2" class="tl" text-anchor="middle">2020</text><text x="401.2" y="465.0" class="tl" text-anchor="end">10</text><text x="401.2" y="541.0" class="tl" text-anchor="end">8</text><text x="401.2" y="617.0" class="tl" text-anchor="end">6</text><text x="401.2" y="693.3" class="tl" text-anchor="end">4</text><path d="M422.3,761.9 v3.7 M470.0,761.9 v3.7 M517.7,761.9 v3.7 M565.4,761.9 v3.7 M613.2,761.9 v3.7 M660.9,761.9 v3.7 M708.6,761.9 v3.7 M407.7,460.7 h-3.7 M407.7,536.7 h-3.7 M407.7,612.7 h-3.7 M407.7,689.0 h-3.7" stroke="#333" stroke-width="1.3"/><text x="570.3" y="420.5" class="tt" text-anchor="middle">Low−middle SDI</text></g><g><polygon points="769.7,518.3 779.2,520.0 788.8,519.5 798.3,519.0 807.9,517.7 817.4,517.7 827.0,514.3 836.5,516.7 846.0,510.0 855.6,503.3 865.1,503.3 874.7,506.7 884.2,512.3 893.8,518.3 903.3,520.0 912.8,525.7 922.4,525.0 931.9,521.7 941.5,520.0 951.0,525.7 960.6,531.7 970.1,539.0 979.6,537.7 989.2,538.3 998.7,543.3 1008.3,549.0 1017.8,549.0 1027.4,551.7 1036.9,560.0 1046.4,558.3 1056.0,560.0 1065.5,561.7 1065.5,692.7 1056.0,692.2 1046.4,691.7 1036.9,688.3 1027.4,685.0 1017.8,684.2 1008.3,683.3 998.7,681.2 989.2,679.0 979.6,680.3 970.1,681.7 960.6,680.0 951.0,677.5 941.5,675.0 931.9,676.7 922.4,678.3 912.8,678.0 903.3,677.7 893.8,675.5 884.2,673.3 874.7,672.8 865.1,672.3 855.6,675.0 846.0,677.7 836.5,678.3 827.0,679.0 817.4,680.0 807.9,681.0 798.3,682.2 788.8,683.3 779.2,685.0 769.7,686.7" fill="#262626" fill-opacity="0.2"/><polygon points="769.7,527.3 779.2,527.8 788.8,528.3 798.3,532.3 807.9,531.7 817.4,535.0 827.0,536.7 836.5,541.7 846.0,540.0 855.6,533.3 865.1,536.7 874.7,540.7 884.2,550.0 893.8,561.7 903.3,561.0 912.8,568.3 922.4,571.7 931.9,577.7 941.5,578.3 951.0,583.3 960.6,595.0 970.1,601.7 979.6,594.0 989.2,592.7 998.7,597.7 1008.3,603.3 1017.8,606.7 1027.4,608.3 1036.9,617.7 1046.4,616.7 1056.0,618.3 1065.5,621.0 1065.5,745.7 1056.0,745.7 1046.4,745.7 1036.9,745.7 1027.4,740.0 1017.8,739.2 1008.3,738.3 998.7,737.5 989.2,736.7 979.6,739.5 970.1,742.3 960.6,742.3 951.0,736.7 941.5,733.3 931.9,734.3 922.4,733.3 912.8,732.3 903.3,728.3 893.8,727.7 884.2,721.7 874.7,719.7 865.1,717.7 855.6,719.3 846.0,721.0 836.5,722.3 827.0,718.3 817.4,718.0 807.9,717.7 798.3,720.0 788.8,717.7 779.2,716.0 769.7,714.3" fill="#c84b9b" fill-opacity="0.2"/><polygon points="769.7,480.0 779.2,476.7 788.8,480.0 798.3,476.0 807.9,475.0 817.4,472.3 827.0,465.7 836.5,467.7 846.0,459.0 855.6,449.0 865.1,450.0 874.7,451.0 884.2,456.7 893.8,459.0 903.3,455.0 912.8,458.3 922.4,456.7 931.9,445.7 941.5,444.0 951.0,450.0 960.6,453.3 970.1,454.3 979.6,458.3 989.2,459.0 998.7,466.7 1008.3,473.3 1017.8,471.7 1027.4,475.0 1036.9,483.3 1046.4,483.3 1056.0,485.0 1065.5,482.7 1065.5,653.3 1056.0,651.7 1046.4,650.0 1036.9,646.7 1027.4,643.3 1017.8,641.7 1008.3,643.3 998.7,642.2 989.2,641.0 979.6,638.8 970.1,636.7 960.6,637.7 951.0,635.7 941.5,636.2 931.9,636.7 922.4,639.5 912.8,642.3 903.3,642.8 893.8,643.3 884.2,643.3 874.7,643.3 865.1,643.3 855.6,648.3 846.0,653.3 836.5,657.5 827.0,661.7 817.4,663.7 807.9,665.7 798.3,668.3 788.8,671.0 779.2,672.7 769.7,674.3" fill="#9048a0" fill-opacity="0.2"/><polyline points="769.7,602.3 779.2,602.0 788.8,601.7 798.3,600.0 807.9,599.2 817.4,598.3 827.0,596.7 836.5,597.7 846.0,592.3 855.6,587.7 865.1,587.3 874.7,591.0 884.2,595.0 893.8,599.0 903.3,598.3 912.8,602.3 922.4,603.3 931.9,601.0 941.5,600.7 951.0,604.3 960.6,610.0 970.1,612.7 979.6,611.7 989.2,612.3 998.7,615.0 1008.3,617.7 1017.8,617.3 1027.4,621.0 1036.9,626.7 1046.4,628.3 1056.0,629.0 1065.5,629.0" fill="none" stroke="#fff" stroke-opacity="0.3" stroke-width="3.8000000000000003"/><polyline points="769.7,602.3 779.2,602.0 788.8,601.7 798.3,600.0 807.9,599.2 817.4,598.3 827.0,596.7 836.5,597.7 846.0,592.3 855.6,587.7 865.1,587.3 874.7,591.0 884.2,595.0 893.8,599.0 903.3,598.3 912.8,602.3 922.4,603.3 931.9,601.0 941.5,600.7 951.0,604.3 960.6,610.0 970.1,612.7 979.6,611.7 989.2,612.3 998.7,615.0 1008.3,617.7 1017.8,617.3 1027.4,621.0 1036.9,626.7 1046.4,628.3 1056.0,629.0 1065.5,629.0" fill="none" stroke="#d0504a" stroke-width="1.6"/><polyline points="769.7,622.7 779.2,623.8 788.8,625.0 798.3,626.7 807.9,626.7 817.4,626.7 827.0,629.5 836.5,632.3 846.0,631.7 855.6,628.3 865.1,629.3 874.7,632.3 884.2,640.0 893.8,648.3 903.3,649.0 912.8,653.3 922.4,656.7 931.9,658.3 941.5,660.0 951.0,663.3 960.6,671.7 970.1,677.7 979.6,673.3 989.2,671.0 998.7,673.3 1008.3,675.7 1017.8,675.7 1027.4,678.3 1036.9,684.3 1046.4,684.8 1056.0,685.2 1065.5,685.7" fill="none" stroke="#fff" stroke-opacity="0.3" stroke-width="4.0" stroke-dasharray="3,2.74"/><polyline points="769.7,622.7 779.2,623.8 788.8,625.0 798.3,626.7 807.9,626.7 817.4,626.7 827.0,629.5 836.5,632.3 846.0,631.7 855.6,628.3 865.1,629.3 874.7,632.3 884.2,640.0 893.8,648.3 903.3,649.0 912.8,653.3 922.4,656.7 931.9,658.3 941.5,660.0 951.0,663.3 960.6,671.7 970.1,677.7 979.6,673.3 989.2,671.0 998.7,673.3 1008.3,675.7 1017.8,675.7 1027.4,678.3 1036.9,684.3 1046.4,684.8 1056.0,685.2 1065.5,685.7" fill="none" stroke="#16961e" stroke-width="1.8" stroke-dasharray="3,2.74"/><polyline points="769.7,580.0 779.2,578.3 788.8,576.7 798.3,573.3 807.9,570.5 817.4,567.7 827.0,562.3 836.5,561.7 846.0,554.3 855.6,546.7 865.1,545.0 874.7,547.7 884.2,548.8 893.8,550.0 903.3,549.0 912.8,550.0 922.4,549.0 931.9,542.7 941.5,540.7 951.0,543.3 960.6,546.7 970.1,547.0 979.6,547.3 989.2,550.0 998.7,555.0 1008.3,557.7 1017.8,556.7 1027.4,560.0 1036.9,566.7 1046.4,568.3 1056.0,570.0 1065.5,568.3" fill="none" stroke="#fff" stroke-opacity="0.3" stroke-width="3.9000000000000004" stroke-dasharray="5.8,2.8"/><polyline points="769.7,580.0 779.2,578.3 788.8,576.7 798.3,573.3 807.9,570.5 817.4,567.7 827.0,562.3 836.5,561.7 846.0,554.3 855.6,546.7 865.1,545.0 874.7,547.7 884.2,548.8 893.8,550.0 903.3,549.0 912.8,550.0 922.4,549.0 931.9,542.7 941.5,540.7 951.0,543.3 960.6,546.7 970.1,547.0 979.6,547.3 989.2,550.0 998.7,555.0 1008.3,557.7 1017.8,556.7 1027.4,560.0 1036.9,566.7 1046.4,568.3 1056.0,570.0 1065.5,568.3" fill="none" stroke="#3a6ee0" stroke-width="1.7" stroke-dasharray="5.8,2.8"/><path d="M755.0,428.6 V761.9 H1080.3" fill="none" stroke="#111" stroke-width="1.5" stroke-linecap="butt" stroke-linejoin="miter"/><text x="769.7" y="778.2" class="tl" text-anchor="middle">1990</text><text x="817.4" y="778.2" class="tl" text-anchor="middle">1995</text><text x="865.1" y="778.2" class="tl" text-anchor="middle">2000</text><text x="912.8" y="778.2" class="tl" text-anchor="middle">2005</text><text x="960.6" y="778.2" class="tl" text-anchor="middle">2010</text><text x="1008.3" y="778.2" class="tl" text-anchor="middle">2015</text><text x="1056.0" y="778.2" class="tl" text-anchor="middle">2020</text><text x="748.5" y="449.3" class="tl" text-anchor="end">8</text><text x="748.5" y="560.3" class="tl" text-anchor="end">6</text><text x="748.5" y="671.0" class="tl" text-anchor="end">4</text><path d="M769.7,761.9 v3.7 M817.4,761.9 v3.7 M865.1,761.9 v3.7 M912.8,761.9 v3.7 M960.6,761.9 v3.7 M1008.3,761.9 v3.7 M1056.0,761.9 v3.7 M755.0,445.0 h-3.7 M755.0,556.0 h-3.7 M755.0,666.7 h-3.7" stroke="#333" stroke-width="1.3"/><text x="917.7" y="420.5" class="tt" text-anchor="middle">Low SDI</text></g><g><polygon points="69.5,1011.7 78.8,1011.7 88.2,1008.3 97.5,1005.8 106.8,1003.3 116.2,1006.0 125.5,1010.5 134.8,1015.0 144.2,1016.0 153.5,1013.0 162.9,1010.0 172.2,1010.0 181.5,1010.0 190.9,1009.2 200.2,1008.3 209.5,1010.0 218.9,1012.5 228.2,1015.0 237.5,1015.5 246.9,1016.0 256.2,1019.3 265.5,1023.3 274.9,1027.3 284.2,1028.3 293.5,1029.3 302.9,1035.0 312.2,1035.8 321.5,1036.7 330.9,1039.2 340.2,1041.7 349.6,1048.3 358.9,1046.0 358.9,1145.0 349.6,1144.5 340.2,1144.0 330.9,1142.8 321.5,1141.7 312.2,1140.8 302.9,1140.0 293.5,1139.2 284.2,1138.3 274.9,1138.3 265.5,1138.3 256.2,1134.0 246.9,1134.0 237.5,1134.0 228.2,1134.0 218.9,1134.0 209.5,1134.0 200.2,1134.9 190.9,1135.8 181.5,1136.7 172.2,1136.3 162.9,1136.0 153.5,1137.3 144.2,1137.0 134.8,1136.7 125.5,1134.2 116.2,1131.7 106.8,1130.0 97.5,1132.0 88.2,1134.0 78.8,1135.0 69.5,1136.0" fill="#262626" fill-opacity="0.2"/><polygon points="69.5,1083.3 78.8,1083.7 88.2,1084.0 97.5,1083.7 106.8,1083.3 116.2,1086.7 125.5,1089.2 134.8,1091.7 144.2,1095.0 153.5,1093.3 162.9,1091.7 172.2,1093.3 181.5,1095.0 190.9,1093.3 200.2,1096.7 209.5,1100.0 218.9,1103.9 228.2,1107.8 237.5,1111.7 246.9,1114.2 256.2,1116.7 265.5,1123.3 274.9,1123.7 284.2,1124.0 293.5,1127.0 302.9,1130.0 312.2,1131.7 321.5,1133.3 330.9,1134.7 340.2,1136.0 349.6,1136.0 358.9,1136.0 358.9,1207.3 349.6,1208.3 340.2,1207.2 330.9,1206.0 321.5,1205.1 312.2,1204.2 302.9,1203.3 293.5,1203.0 284.2,1202.7 274.9,1203.8 265.5,1205.0 256.2,1200.7 246.9,1200.0 237.5,1199.3 228.2,1198.7 218.9,1198.0 209.5,1197.3 200.2,1197.0 190.9,1196.7 181.5,1196.1 172.2,1195.6 162.9,1195.0 153.5,1194.7 144.2,1194.3 134.8,1194.0 125.5,1192.8 116.2,1191.7 106.8,1191.7 97.5,1191.7 88.2,1191.7 78.8,1191.2 69.5,1190.7" fill="#c84b9b" fill-opacity="0.2"/><polygon points="69.5,920.0 78.8,917.3 88.2,917.3 97.5,911.7 106.8,906.0 116.2,910.0 125.5,917.3 134.8,922.7 144.2,922.7 153.5,916.0 162.9,910.7 172.2,913.3 181.5,913.3 190.9,908.3 200.2,906.0 209.5,908.3 218.9,913.3 228.2,914.0 237.5,909.3 246.9,910.0 256.2,914.0 265.5,920.0 274.9,925.0 284.2,926.7 293.5,927.3 302.9,935.0 312.2,935.5 321.5,936.0 330.9,938.3 340.2,943.3 349.6,950.7 358.9,948.3 358.9,1090.7 349.6,1090.0 340.2,1087.0 330.9,1084.0 321.5,1083.2 312.2,1082.4 302.9,1081.7 293.5,1076.7 284.2,1077.5 274.9,1078.3 265.5,1077.5 256.2,1076.7 246.9,1074.7 237.5,1072.7 228.2,1073.8 218.9,1074.9 209.5,1076.0 200.2,1078.3 190.9,1080.7 181.5,1082.1 172.2,1083.6 162.9,1085.0 153.5,1087.5 144.2,1090.0 134.8,1089.3 125.5,1083.8 116.2,1078.3 106.8,1076.7 97.5,1078.7 88.2,1080.7 78.8,1082.0 69.5,1083.3" fill="#9048a0" fill-opacity="0.2"/><polyline points="69.5,1074.0 78.8,1073.3 88.2,1072.7 97.5,1070.0 106.8,1067.3 116.2,1069.3 125.5,1073.0 134.8,1076.7 144.2,1077.3 153.5,1075.7 162.9,1074.0 172.2,1074.2 181.5,1074.3 190.9,1073.8 200.2,1073.2 209.5,1072.7 218.9,1073.8 228.2,1075.0 237.5,1075.0 246.9,1076.7 256.2,1078.3 265.5,1081.7 274.9,1082.5 284.2,1083.3 293.5,1085.3 302.9,1087.3 312.2,1088.3 321.5,1089.3 330.9,1091.3 340.2,1093.3 349.6,1096.0 358.9,1095.0" fill="none" stroke="#fff" stroke-opacity="0.3" stroke-width="3.8000000000000003"/><polyline points="69.5,1074.0 78.8,1073.3 88.2,1072.7 97.5,1070.0 106.8,1067.3 116.2,1069.3 125.5,1073.0 134.8,1076.7 144.2,1077.3 153.5,1075.7 162.9,1074.0 172.2,1074.2 181.5,1074.3 190.9,1073.8 200.2,1073.2 209.5,1072.7 218.9,1073.8 228.2,1075.0 237.5,1075.0 246.9,1076.7 256.2,1078.3 265.5,1081.7 274.9,1082.5 284.2,1083.3 293.5,1085.3 302.9,1087.3 312.2,1088.3 321.5,1089.3 330.9,1091.3 340.2,1093.3 349.6,1096.0 358.9,1095.0" fill="none" stroke="#d0504a" stroke-width="1.6"/><polyline points="69.5,1141.0 78.8,1141.7 88.2,1142.3 97.5,1142.3 106.8,1142.3 116.2,1144.0 125.5,1146.2 134.8,1148.3 144.2,1149.3 153.5,1148.8 162.9,1148.3 172.2,1148.8 181.5,1149.3 190.9,1150.4 200.2,1151.6 209.5,1152.7 218.9,1154.6 228.2,1156.4 237.5,1158.3 246.9,1159.5 256.2,1160.7 265.5,1166.0 274.9,1165.5 284.2,1165.0 293.5,1166.7 302.9,1168.3 312.2,1169.4 321.5,1170.6 330.9,1171.7 340.2,1172.8 349.6,1174.0 358.9,1173.3" fill="none" stroke="#fff" stroke-opacity="0.3" stroke-width="4.0" stroke-dasharray="3,2.74"/><polyline points="69.5,1141.0 78.8,1141.7 88.2,1142.3 97.5,1142.3 106.8,1142.3 116.2,1144.0 125.5,1146.2 134.8,1148.3 144.2,1149.3 153.5,1148.8 162.9,1148.3 172.2,1148.8 181.5,1149.3 190.9,1150.4 200.2,1151.6 209.5,1152.7 218.9,1154.6 228.2,1156.4 237.5,1158.3 246.9,1159.5 256.2,1160.7 265.5,1166.0 274.9,1165.5 284.2,1165.0 293.5,1166.7 302.9,1168.3 312.2,1169.4 321.5,1170.6 330.9,1171.7 340.2,1172.8 349.6,1174.0 358.9,1173.3" fill="none" stroke="#16961e" stroke-width="1.8" stroke-dasharray="3,2.74"/><polyline points="69.5,1008.3 78.8,1006.7 88.2,1005.0 97.5,999.2 106.8,993.3 116.2,996.7 125.5,1002.5 134.8,1008.3 144.2,1007.3 153.5,1003.3 162.9,999.3 172.2,1000.0 181.5,1000.7 190.9,998.3 200.2,996.0 209.5,991.7 218.9,992.8 228.2,994.0 237.5,990.0 246.9,991.7 256.2,993.3 265.5,998.3 274.9,1000.0 284.2,1001.7 293.5,1002.7 302.9,1006.7 312.2,1008.3 321.5,1010.0 330.9,1011.7 340.2,1015.8 349.6,1020.0 358.9,1018.3" fill="none" stroke="#fff" stroke-opacity="0.3" stroke-width="3.9000000000000004" stroke-dasharray="5.8,2.8"/><polyline points="69.5,1008.3 78.8,1006.7 88.2,1005.0 97.5,999.2 106.8,993.3 116.2,996.7 125.5,1002.5 134.8,1008.3 144.2,1007.3 153.5,1003.3 162.9,999.3 172.2,1000.0 181.5,1000.7 190.9,998.3 200.2,996.0 209.5,991.7 218.9,992.8 228.2,994.0 237.5,990.0 246.9,991.7 256.2,993.3 265.5,998.3 274.9,1000.0 284.2,1001.7 293.5,1002.7 302.9,1006.7 312.2,1008.3 321.5,1010.0 330.9,1011.7 340.2,1015.8 349.6,1020.0 358.9,1018.3" fill="none" stroke="#3a6ee0" stroke-width="1.7" stroke-dasharray="5.8,2.8"/><path d="M55.0,891.0 V1223.5 H373.4" fill="none" stroke="#111" stroke-width="1.5" stroke-linecap="butt" stroke-linejoin="miter"/><text x="69.5" y="1239.8" class="tl" text-anchor="middle">1990</text><text x="116.2" y="1239.8" class="tl" text-anchor="middle">1995</text><text x="162.9" y="1239.8" class="tl" text-anchor="middle">2000</text><text x="209.5" y="1239.8" class="tl" text-anchor="middle">2005</text><text x="256.2" y="1239.8" class="tl" text-anchor="middle">2010</text><text x="302.9" y="1239.8" class="tl" text-anchor="middle">2015</text><text x="349.6" y="1239.8" class="tl" text-anchor="middle">2020</text><text x="48.5" y="907.6" class="tl" text-anchor="end">500</text><text x="48.5" y="986.0" class="tl" text-anchor="end">400</text><text x="48.5" y="1064.3" class="tl" text-anchor="end">300</text><text x="48.5" y="1142.6" class="tl" text-anchor="end">200</text><text x="48.5" y="1220.9" class="tl" text-anchor="end">100</text><path d="M69.5,1223.5 v3.7 M116.2,1223.5 v3.7 M162.9,1223.5 v3.7 M209.5,1223.5 v3.7 M256.2,1223.5 v3.7 M302.9,1223.5 v3.7 M349.6,1223.5 v3.7 M55.0,903.3 h-3.7 M55.0,981.7 h-3.7 M55.0,1060.0 h-3.7 M55.0,1138.3 h-3.7 M55.0,1216.6 h-3.7" stroke="#333" stroke-width="1.3"/><text x="214.2" y="882.9" class="tt" text-anchor="middle">Global</text></g><g><polygon points="422.7,1016.0 432.0,1018.3 441.3,1025.0 450.7,1029.3 460.0,1033.8 469.3,1038.3 478.6,1045.0 487.9,1051.7 497.3,1057.5 506.6,1063.3 515.9,1070.0 525.2,1072.0 534.5,1074.0 543.9,1076.9 553.2,1079.8 562.5,1082.7 571.8,1084.7 581.1,1086.7 590.5,1085.8 599.8,1085.0 609.1,1087.2 618.4,1089.3 627.7,1088.3 637.1,1087.3 646.4,1085.3 655.7,1083.3 665.0,1081.3 674.3,1079.3 683.7,1078.3 693.0,1081.7 702.3,1083.3 711.6,1085.0 711.6,1152.7 702.3,1150.0 693.0,1147.3 683.7,1144.0 674.3,1143.3 665.0,1144.2 655.7,1145.0 646.4,1147.2 637.1,1149.3 627.7,1150.7 618.4,1151.2 609.1,1151.7 599.8,1151.2 590.5,1150.7 581.1,1150.7 571.8,1150.7 562.5,1150.7 553.2,1148.8 543.9,1146.9 534.5,1145.0 525.2,1143.3 515.9,1141.7 506.6,1138.3 497.3,1135.0 487.9,1131.7 478.6,1127.2 469.3,1122.7 460.0,1120.7 450.7,1118.7 441.3,1116.7 432.0,1112.7 422.7,1111.0" fill="#262626" fill-opacity="0.2"/><polygon points="422.7,1125.0 432.0,1127.3 441.3,1130.7 450.7,1131.8 460.0,1132.9 469.3,1134.0 478.6,1137.8 487.9,1141.7 497.3,1143.9 506.6,1146.1 515.9,1148.3 525.2,1150.8 534.5,1153.3 543.9,1156.7 553.2,1160.0 562.5,1164.0 571.8,1167.3 581.1,1167.8 590.5,1168.3 599.8,1168.8 609.1,1169.3 618.4,1169.3 627.7,1169.3 637.1,1169.3 646.4,1167.2 655.7,1165.0 665.0,1163.3 674.3,1161.7 683.7,1160.8 693.0,1160.0 702.3,1158.7 711.6,1157.3 711.6,1206.0 702.3,1204.7 693.0,1203.3 683.7,1203.3 674.3,1203.3 665.0,1204.2 655.7,1205.0 646.4,1206.7 637.1,1208.3 627.7,1208.3 618.4,1208.3 609.1,1208.3 599.8,1208.3 590.5,1208.3 581.1,1208.3 571.8,1207.5 562.5,1206.7 553.2,1205.0 543.9,1203.3 534.5,1202.2 525.2,1201.1 515.9,1200.0 506.6,1198.9 497.3,1197.8 487.9,1196.7 478.6,1195.0 469.3,1193.3 460.0,1192.2 450.7,1191.1 441.3,1190.0 432.0,1189.2 422.7,1188.3" fill="#c84b9b" fill-opacity="0.2"/><polygon points="422.7,906.0 432.0,908.3 441.3,915.0 450.7,923.3 460.0,931.7 469.3,943.3 478.6,956.7 487.9,967.7 497.3,976.7 506.6,988.3 515.9,994.0 525.2,997.7 534.5,1000.7 543.9,1003.3 553.2,1004.0 562.5,1005.0 571.8,1006.7 581.1,1006.7 590.5,1004.0 599.8,1004.0 609.1,1006.7 618.4,1010.0 627.7,1006.7 637.1,1006.7 646.4,1004.0 655.7,1000.0 665.0,996.7 674.3,995.7 683.7,996.7 693.0,1001.7 702.3,1004.0 711.6,1006.0 711.6,1107.3 702.3,1102.0 693.0,1096.7 683.7,1093.3 674.3,1093.3 665.0,1095.0 655.7,1096.7 646.4,1098.7 637.1,1100.7 627.7,1100.7 618.4,1101.2 609.1,1101.7 599.8,1101.1 590.5,1100.6 581.1,1100.0 571.8,1099.7 562.5,1099.3 553.2,1097.9 543.9,1096.4 534.5,1095.0 525.2,1094.2 515.9,1093.3 506.6,1086.7 497.3,1081.7 487.9,1076.7 478.6,1070.0 469.3,1063.3 460.0,1058.7 450.7,1054.0 441.3,1048.3 432.0,1040.7 422.7,1039.3" fill="#9048a0" fill-opacity="0.2"/><polyline points="422.7,1063.3 432.0,1065.7 441.3,1071.7 450.7,1075.0 460.0,1078.3 469.3,1082.7 478.6,1088.0 487.9,1093.3 497.3,1097.5 506.6,1101.7 515.9,1108.3 525.2,1110.0 534.5,1111.7 543.9,1113.3 553.2,1115.3 562.5,1117.3 571.8,1118.3 581.1,1119.3 590.5,1118.8 599.8,1118.3 609.1,1119.2 618.4,1120.0 627.7,1120.0 637.1,1120.0 646.4,1118.0 655.7,1116.0 665.0,1114.3 674.3,1112.7 683.7,1112.7 693.0,1114.9 702.3,1117.1 711.6,1119.3" fill="none" stroke="#fff" stroke-opacity="0.3" stroke-width="3.8000000000000003"/><polyline points="422.7,1063.3 432.0,1065.7 441.3,1071.7 450.7,1075.0 460.0,1078.3 469.3,1082.7 478.6,1088.0 487.9,1093.3 497.3,1097.5 506.6,1101.7 515.9,1108.3 525.2,1110.0 534.5,1111.7 543.9,1113.3 553.2,1115.3 562.5,1117.3 571.8,1118.3 581.1,1119.3 590.5,1118.8 599.8,1118.3 609.1,1119.2 618.4,1120.0 627.7,1120.0 637.1,1120.0 646.4,1118.0 655.7,1116.0 665.0,1114.3 674.3,1112.7 683.7,1112.7 693.0,1114.9 702.3,1117.1 711.6,1119.3" fill="none" stroke="#d0504a" stroke-width="1.6"/><polyline points="422.7,1158.3 432.0,1160.5 441.3,1162.7 450.7,1163.8 460.0,1165.0 469.3,1167.3 478.6,1170.0 487.9,1172.7 497.3,1174.2 506.6,1175.8 515.9,1177.3 525.2,1178.8 534.5,1180.2 543.9,1181.7 553.2,1185.0 562.5,1188.3 571.8,1188.8 581.1,1189.3 590.5,1189.3 599.8,1189.3 609.1,1189.3 618.4,1189.6 627.7,1189.8 637.1,1190.0 646.4,1188.3 655.7,1186.7 665.0,1185.3 674.3,1184.0 683.7,1183.7 693.0,1183.3 702.3,1184.2 711.6,1185.0" fill="none" stroke="#fff" stroke-opacity="0.3" stroke-width="4.0" stroke-dasharray="3,2.74"/><polyline points="422.7,1158.3 432.0,1160.5 441.3,1162.7 450.7,1163.8 460.0,1165.0 469.3,1167.3 478.6,1170.0 487.9,1172.7 497.3,1174.2 506.6,1175.8 515.9,1177.3 525.2,1178.8 534.5,1180.2 543.9,1181.7 553.2,1185.0 562.5,1188.3 571.8,1188.8 581.1,1189.3 590.5,1189.3 599.8,1189.3 609.1,1189.3 618.4,1189.6 627.7,1189.8 637.1,1190.0 646.4,1188.3 655.7,1186.7 665.0,1185.3 674.3,1184.0 683.7,1183.7 693.0,1183.3 702.3,1184.2 711.6,1185.0" fill="none" stroke="#16961e" stroke-width="1.8" stroke-dasharray="3,2.74"/><polyline points="422.7,971.7 432.0,974.3 441.3,983.3 450.7,989.7 460.0,996.0 469.3,1003.3 478.6,1013.3 487.9,1022.0 497.3,1028.3 506.6,1036.7 515.9,1043.3 525.2,1045.7 534.5,1047.8 543.9,1050.0 553.2,1051.3 562.5,1052.7 571.8,1052.7 581.1,1052.7 590.5,1050.7 599.8,1051.7 609.1,1052.7 618.4,1055.0 627.7,1052.7 637.1,1052.7 646.4,1050.0 655.7,1047.3 665.0,1045.7 674.3,1044.0 683.7,1045.0 693.0,1048.3 702.3,1053.3 711.6,1058.3" fill="none" stroke="#fff" stroke-opacity="0.3" stroke-width="3.9000000000000004" stroke-dasharray="5.8,2.8"/><polyline points="422.7,971.7 432.0,974.3 441.3,983.3 450.7,989.7 460.0,996.0 469.3,1003.3 478.6,1013.3 487.9,1022.0 497.3,1028.3 506.6,1036.7 515.9,1043.3 525.2,1045.7 534.5,1047.8 543.9,1050.0 553.2,1051.3 562.5,1052.7 571.8,1052.7 581.1,1052.7 590.5,1050.7 599.8,1051.7 609.1,1052.7 618.4,1055.0 627.7,1052.7 637.1,1052.7 646.4,1050.0 655.7,1047.3 665.0,1045.7 674.3,1044.0 683.7,1045.0 693.0,1048.3 702.3,1053.3 711.6,1058.3" fill="none" stroke="#3a6ee0" stroke-width="1.7" stroke-dasharray="5.8,2.8"/><path d="M408.3,891.0 V1223.5 H726.1" fill="none" stroke="#111" stroke-width="1.5" stroke-linecap="butt" stroke-linejoin="miter"/><text x="422.7" y="1239.8" class="tl" text-anchor="middle">1990</text><text x="469.3" y="1239.8" class="tl" text-anchor="middle">1995</text><text x="515.9" y="1239.8" class="tl" text-anchor="middle">2000</text><text x="562.5" y="1239.8" class="tl" text-anchor="middle">2005</text><text x="609.1" y="1239.8" class="tl" text-anchor="middle">2010</text><text x="655.7" y="1239.8" class="tl" text-anchor="middle">2015</text><text x="702.3" y="1239.8" class="tl" text-anchor="middle">2020</text><text x="401.8" y="917.6" class="tl" text-anchor="end">300</text><text x="401.8" y="1029.3" class="tl" text-anchor="end">200</text><text x="401.8" y="1140.3" class="tl" text-anchor="end">100</text><path d="M422.7,1223.5 v3.7 M469.3,1223.5 v3.7 M515.9,1223.5 v3.7 M562.5,1223.5 v3.7 M609.1,1223.5 v3.7 M655.7,1223.5 v3.7 M702.3,1223.5 v3.7 M408.3,913.3 h-3.7 M408.3,1025.0 h-3.7 M408.3,1136.0 h-3.7" stroke="#333" stroke-width="1.3"/><text x="567.2" y="882.9" class="tt" text-anchor="middle">High SDI</text></g><g><polygon points="776.2,1045.0 785.5,1042.0 794.9,1033.7 804.2,1022.0 813.6,1014.7 822.9,1019.0 832.3,1029.0 841.6,1038.0 851.0,1044.3 860.3,1040.3 869.7,1037.3 879.0,1040.3 888.3,1040.3 897.7,1037.0 907.0,1036.7 916.4,1038.0 925.7,1046.7 935.1,1052.3 944.4,1050.3 953.8,1055.7 963.1,1056.7 972.4,1064.3 981.8,1072.7 991.1,1075.3 1000.5,1074.7 1009.8,1080.7 1019.2,1084.7 1028.5,1086.0 1037.9,1087.7 1047.2,1089.7 1056.6,1093.0 1065.9,1093.0 1065.9,1166.0 1056.6,1166.0 1047.2,1160.7 1037.9,1159.5 1028.5,1158.3 1019.2,1156.7 1009.8,1155.0 1000.5,1152.7 991.1,1151.7 981.8,1150.7 972.4,1147.8 963.1,1145.0 953.8,1144.0 944.4,1142.8 935.1,1141.7 925.7,1140.0 916.4,1135.0 907.0,1136.0 897.7,1136.7 888.3,1137.3 879.0,1136.7 869.7,1136.0 860.3,1136.7 851.0,1137.3 841.6,1138.3 832.3,1131.7 822.9,1123.3 813.6,1120.0 804.2,1126.0 794.9,1135.0 785.5,1140.7 776.2,1142.7" fill="#262626" fill-opacity="0.2"/><polygon points="776.2,1113.3 785.5,1112.7 794.9,1112.7 804.2,1106.7 813.6,1103.3 822.9,1106.0 832.3,1109.3 841.6,1111.7 851.0,1112.7 860.3,1111.3 869.7,1110.0 879.0,1110.8 888.3,1111.7 897.7,1113.3 907.0,1115.0 916.4,1118.3 925.7,1126.7 935.1,1130.0 944.4,1131.7 953.8,1132.8 963.1,1134.0 972.4,1137.8 981.8,1141.7 991.1,1143.3 1000.5,1145.0 1009.8,1150.0 1019.2,1152.5 1028.5,1155.0 1037.9,1157.2 1047.2,1159.3 1056.6,1161.7 1065.9,1161.7 1065.9,1207.7 1056.6,1207.7 1047.2,1206.7 1037.9,1205.7 1028.5,1204.7 1019.2,1203.7 1009.8,1202.7 1000.5,1202.0 991.1,1201.3 981.8,1200.7 972.4,1200.0 963.1,1199.3 953.8,1198.7 944.4,1198.0 935.1,1197.3 925.7,1196.7 916.4,1194.3 907.0,1195.2 897.7,1196.0 888.3,1195.8 879.0,1195.7 869.7,1195.3 860.3,1195.0 851.0,1194.2 841.6,1193.3 832.3,1191.3 822.9,1189.3 813.6,1188.3 804.2,1190.0 794.9,1192.7 785.5,1194.3 776.2,1195.0" fill="#c84b9b" fill-opacity="0.2"/><polygon points="776.2,950.3 785.5,944.3 794.9,930.0 804.2,915.3 813.6,906.0 822.9,911.3 832.3,926.7 841.6,942.0 851.0,949.0 860.3,944.3 869.7,939.7 879.0,945.0 888.3,946.7 897.7,937.3 907.0,935.7 916.4,940.3 925.7,956.3 935.1,963.0 944.4,959.3 953.8,964.7 963.1,966.7 972.4,979.0 981.8,992.7 991.1,995.0 1000.5,990.0 1009.8,999.7 1019.2,1002.7 1028.5,1004.3 1037.9,1004.7 1047.2,1006.3 1056.6,1015.7 1065.9,1015.0 1065.9,1128.3 1056.6,1128.3 1047.2,1126.0 1037.9,1124.3 1028.5,1122.7 1019.2,1121.0 1009.8,1119.3 1000.5,1113.3 991.1,1113.3 981.8,1113.3 972.4,1108.3 963.1,1103.3 953.8,1101.7 944.4,1100.5 935.1,1099.3 925.7,1098.3 916.4,1090.0 907.0,1094.0 897.7,1096.7 888.3,1096.7 879.0,1094.7 869.7,1092.7 860.3,1093.8 851.0,1095.0 841.6,1091.7 832.3,1081.7 822.9,1069.3 813.6,1063.3 804.2,1076.7 794.9,1091.7 785.5,1099.3 776.2,1101.7" fill="#9048a0" fill-opacity="0.2"/><polyline points="776.2,1096.7 785.5,1093.3 794.9,1087.3 804.2,1076.0 813.6,1069.3 822.9,1073.3 832.3,1082.7 841.6,1089.3 851.0,1093.3 860.3,1090.0 869.7,1088.3 879.0,1090.0 888.3,1090.0 897.7,1087.7 907.0,1086.7 916.4,1086.7 925.7,1094.0 935.1,1096.7 944.4,1096.0 953.8,1099.3 963.1,1100.7 972.4,1107.3 981.8,1113.3 991.1,1115.0 1000.5,1114.0 1009.8,1118.3 1019.2,1121.7 1028.5,1123.3 1037.9,1124.0 1047.2,1126.0 1056.6,1130.0 1065.9,1129.3" fill="none" stroke="#fff" stroke-opacity="0.3" stroke-width="3.8000000000000003"/><polyline points="776.2,1096.7 785.5,1093.3 794.9,1087.3 804.2,1076.0 813.6,1069.3 822.9,1073.3 832.3,1082.7 841.6,1089.3 851.0,1093.3 860.3,1090.0 869.7,1088.3 879.0,1090.0 888.3,1090.0 897.7,1087.7 907.0,1086.7 916.4,1086.7 925.7,1094.0 935.1,1096.7 944.4,1096.0 953.8,1099.3 963.1,1100.7 972.4,1107.3 981.8,1113.3 991.1,1115.0 1000.5,1114.0 1009.8,1118.3 1019.2,1121.7 1028.5,1123.3 1037.9,1124.0 1047.2,1126.0 1056.6,1130.0 1065.9,1129.3" fill="none" stroke="#d0504a" stroke-width="1.6"/><polyline points="776.2,1162.7 785.5,1161.7 794.9,1160.0 804.2,1156.0 813.6,1154.0 822.9,1155.0 832.3,1157.5 841.6,1160.0 851.0,1161.7 860.3,1160.8 869.7,1160.0 879.0,1160.3 888.3,1160.7 897.7,1161.0 907.0,1161.3 916.4,1161.7 925.7,1166.0 935.1,1168.0 944.4,1170.0 953.8,1170.8 963.1,1171.7 972.4,1174.2 981.8,1176.7 991.1,1178.0 1000.5,1179.3 1009.8,1181.0 1019.2,1182.7 1028.5,1183.8 1037.9,1185.0 1047.2,1186.2 1056.6,1187.3 1065.9,1187.3" fill="none" stroke="#fff" stroke-opacity="0.3" stroke-width="4.0" stroke-dasharray="3,2.74"/><polyline points="776.2,1162.7 785.5,1161.7 794.9,1160.0 804.2,1156.0 813.6,1154.0 822.9,1155.0 832.3,1157.5 841.6,1160.0 851.0,1161.7 860.3,1160.8 869.7,1160.0 879.0,1160.3 888.3,1160.7 897.7,1161.0 907.0,1161.3 916.4,1161.7 925.7,1166.0 935.1,1168.0 944.4,1170.0 953.8,1170.8 963.1,1171.7 972.4,1174.2 981.8,1176.7 991.1,1178.0 1000.5,1179.3 1009.8,1181.0 1019.2,1182.7 1028.5,1183.8 1037.9,1185.0 1047.2,1186.2 1056.6,1187.3 1065.9,1187.3" fill="none" stroke="#16961e" stroke-width="1.8" stroke-dasharray="3,2.74"/><polyline points="776.2,1033.3 785.5,1028.3 794.9,1016.0 804.2,999.3 813.6,989.3 822.9,993.3 832.3,1006.7 841.6,1020.0 851.0,1026.0 860.3,1021.7 869.7,1017.3 879.0,1021.7 888.3,1022.7 897.7,1017.3 907.0,1015.0 916.4,1014.0 925.7,1026.0 935.1,1029.3 944.4,1026.7 953.8,1031.0 963.1,1031.7 972.4,1040.7 981.8,1051.7 991.1,1053.3 1000.5,1050.0 1009.8,1058.3 1019.2,1063.3 1028.5,1065.0 1037.9,1066.0 1047.2,1069.3 1056.6,1076.7 1065.9,1075.0" fill="none" stroke="#fff" stroke-opacity="0.3" stroke-width="3.9000000000000004" stroke-dasharray="5.8,2.8"/><polyline points="776.2,1033.3 785.5,1028.3 794.9,1016.0 804.2,999.3 813.6,989.3 822.9,993.3 832.3,1006.7 841.6,1020.0 851.0,1026.0 860.3,1021.7 869.7,1017.3 879.0,1021.7 888.3,1022.7 897.7,1017.3 907.0,1015.0 916.4,1014.0 925.7,1026.0 935.1,1029.3 944.4,1026.7 953.8,1031.0 963.1,1031.7 972.4,1040.7 981.8,1051.7 991.1,1053.3 1000.5,1050.0 1009.8,1058.3 1019.2,1063.3 1028.5,1065.0 1037.9,1066.0 1047.2,1069.3 1056.6,1076.7 1065.9,1075.0" fill="none" stroke="#3a6ee0" stroke-width="1.7" stroke-dasharray="5.8,2.8"/><path d="M761.7,891.0 V1223.5 H1080.4" fill="none" stroke="#111" stroke-width="1.5" stroke-linecap="butt" stroke-linejoin="miter"/><text x="776.2" y="1239.8" class="tl" text-anchor="middle">1990</text><text x="822.9" y="1239.8" class="tl" text-anchor="middle">1995</text><text x="869.7" y="1239.8" class="tl" text-anchor="middle">2000</text><text x="916.4" y="1239.8" class="tl" text-anchor="middle">2005</text><text x="963.1" y="1239.8" class="tl" text-anchor="middle">2010</text><text x="1009.8" y="1239.8" class="tl" text-anchor="middle">2015</text><text x="1056.6" y="1239.8" class="tl" text-anchor="middle">2020</text><text x="755.2" y="931.0" class="tl" text-anchor="end">600</text><text x="755.2" y="1034.3" class="tl" text-anchor="end">400</text><text x="755.2" y="1137.6" class="tl" text-anchor="end">200</text><path d="M776.2,1223.5 v3.7 M822.9,1223.5 v3.7 M869.7,1223.5 v3.7 M916.4,1223.5 v3.7 M963.1,1223.5 v3.7 M1009.8,1223.5 v3.7 M1056.6,1223.5 v3.7 M761.7,926.7 h-3.7 M761.7,1030.0 h-3.7 M761.7,1133.3 h-3.7" stroke="#333" stroke-width="1.3"/><text x="921.0" y="882.9" class="tt" text-anchor="middle">High−middle SDI</text></g><g><polygon points="69.5,1384.3 78.8,1388.3 88.2,1384.3 97.5,1386.7 106.8,1388.3 116.2,1390.0 125.5,1394.2 134.8,1398.3 144.2,1396.7 153.5,1395.0 162.9,1393.3 172.2,1397.7 181.5,1395.0 190.9,1391.7 200.2,1391.7 209.5,1395.7 218.9,1400.0 228.2,1400.0 237.5,1400.0 246.9,1402.2 256.2,1404.3 265.5,1408.5 274.9,1412.7 284.2,1413.8 293.5,1415.0 302.9,1419.3 312.2,1420.8 321.5,1422.3 330.9,1424.2 340.2,1426.0 349.6,1431.7 358.9,1431.0 358.9,1526.7 349.6,1529.0 340.2,1525.0 330.9,1523.7 321.5,1522.3 312.2,1522.0 302.9,1521.7 293.5,1520.8 284.2,1520.0 274.9,1520.0 265.5,1520.0 256.2,1517.7 246.9,1517.7 237.5,1517.7 228.2,1518.0 218.9,1518.3 209.5,1518.7 200.2,1519.0 190.9,1519.5 181.5,1520.0 172.2,1519.5 162.9,1519.0 153.5,1519.5 144.2,1520.0 134.8,1520.0 125.5,1520.0 116.2,1519.2 106.8,1518.3 97.5,1517.0 88.2,1515.7 78.8,1515.3 69.5,1515.0" fill="#262626" fill-opacity="0.2"/><polygon points="69.5,1436.7 78.8,1443.3 88.2,1443.3 97.5,1447.5 106.8,1451.7 116.2,1455.0 125.5,1458.3 134.8,1461.7 144.2,1465.0 153.5,1465.8 162.9,1466.7 172.2,1469.2 181.5,1471.7 190.9,1475.0 200.2,1478.3 209.5,1483.3 218.9,1488.3 228.2,1491.7 237.5,1495.0 246.9,1497.0 256.2,1499.0 265.5,1502.8 274.9,1506.7 284.2,1510.0 293.5,1513.3 302.9,1516.7 312.2,1518.3 321.5,1520.0 330.9,1522.5 340.2,1525.0 349.6,1528.3 358.9,1525.0 358.9,1590.0 349.6,1591.0 340.2,1590.0 330.9,1589.0 321.5,1588.6 312.2,1588.1 302.9,1587.7 293.5,1586.7 284.2,1585.7 274.9,1585.7 265.5,1585.7 256.2,1581.7 246.9,1580.3 237.5,1579.0 228.2,1578.3 218.9,1577.7 209.5,1576.3 200.2,1575.0 190.9,1575.0 181.5,1575.0 172.2,1574.7 162.9,1574.3 153.5,1573.3 144.2,1572.3 134.8,1571.2 125.5,1570.0 116.2,1567.8 106.8,1565.7 97.5,1564.0 88.2,1562.3 78.8,1563.3 69.5,1561.7" fill="#c84b9b" fill-opacity="0.2"/><polygon points="69.5,1296.7 78.8,1296.0 88.2,1296.7 97.5,1300.0 106.8,1301.7 116.2,1300.0 125.5,1302.3 134.8,1307.7 144.2,1303.3 153.5,1300.0 162.9,1293.3 172.2,1296.7 181.5,1296.7 190.9,1291.7 200.2,1288.3 209.5,1295.0 218.9,1302.3 228.2,1301.0 237.5,1295.0 246.9,1293.3 256.2,1297.7 265.5,1301.0 274.9,1305.7 284.2,1305.7 293.5,1306.7 302.9,1313.3 312.2,1314.3 321.5,1314.3 330.9,1317.7 340.2,1321.7 349.6,1328.3 358.9,1325.0 358.9,1475.0 349.6,1475.7 340.2,1471.7 330.9,1470.8 321.5,1470.0 312.2,1469.2 302.9,1468.3 293.5,1466.7 284.2,1465.0 274.9,1464.3 265.5,1463.3 256.2,1462.3 246.9,1461.7 237.5,1464.7 228.2,1467.7 218.9,1470.0 209.5,1472.3 200.2,1475.7 190.9,1479.0 181.5,1478.8 172.2,1478.6 162.9,1478.3 153.5,1478.3 144.2,1478.3 134.8,1480.0 125.5,1478.3 116.2,1478.0 106.8,1477.7 97.5,1478.0 88.2,1478.3 78.8,1478.7 69.5,1479.0" fill="#9048a0" fill-opacity="0.2"/><polyline points="69.5,1451.0 78.8,1452.7 88.2,1452.3 97.5,1453.3 106.8,1454.3 116.2,1456.3 125.5,1458.3 134.8,1461.0 144.2,1461.0 153.5,1460.0 162.9,1458.3 172.2,1460.0 181.5,1458.7 190.9,1457.3 200.2,1455.7 209.5,1457.5 218.9,1459.3 228.2,1461.0 237.5,1460.5 246.9,1460.0 256.2,1462.3 265.5,1465.7 274.9,1467.7 284.2,1468.3 293.5,1470.5 302.9,1472.7 312.2,1474.2 321.5,1475.7 330.9,1477.0 340.2,1478.3 349.6,1481.7 358.9,1480.0" fill="none" stroke="#fff" stroke-opacity="0.3" stroke-width="3.8000000000000003"/><polyline points="69.5,1451.0 78.8,1452.7 88.2,1452.3 97.5,1453.3 106.8,1454.3 116.2,1456.3 125.5,1458.3 134.8,1461.0 144.2,1461.0 153.5,1460.0 162.9,1458.3 172.2,1460.0 181.5,1458.7 190.9,1457.3 200.2,1455.7 209.5,1457.5 218.9,1459.3 228.2,1461.0 237.5,1460.5 246.9,1460.0 256.2,1462.3 265.5,1465.7 274.9,1467.7 284.2,1468.3 293.5,1470.5 302.9,1472.7 312.2,1474.2 321.5,1475.7 330.9,1477.0 340.2,1478.3 349.6,1481.7 358.9,1480.0" fill="none" stroke="#d0504a" stroke-width="1.6"/><polyline points="69.5,1508.3 78.8,1511.0 88.2,1511.7 97.5,1514.2 106.8,1516.7 116.2,1519.3 125.5,1522.3 134.8,1524.5 144.2,1526.7 153.5,1527.2 162.9,1527.7 172.2,1528.3 181.5,1529.0 190.9,1529.0 200.2,1529.0 209.5,1532.0 218.9,1535.0 228.2,1537.5 237.5,1540.0 246.9,1541.7 256.2,1543.3 265.5,1546.7 274.9,1550.0 284.2,1550.8 293.5,1551.7 302.9,1555.0 312.2,1556.3 321.5,1557.7 330.9,1558.8 340.2,1560.0 349.6,1561.0 358.9,1560.0" fill="none" stroke="#fff" stroke-opacity="0.3" stroke-width="4.0" stroke-dasharray="3,2.74"/><polyline points="69.5,1508.3 78.8,1511.0 88.2,1511.7 97.5,1514.2 106.8,1516.7 116.2,1519.3 125.5,1522.3 134.8,1524.5 144.2,1526.7 153.5,1527.2 162.9,1527.7 172.2,1528.3 181.5,1529.0 190.9,1529.0 200.2,1529.0 209.5,1532.0 218.9,1535.0 228.2,1537.5 237.5,1540.0 246.9,1541.7 256.2,1543.3 265.5,1546.7 274.9,1550.0 284.2,1550.8 293.5,1551.7 302.9,1555.0 312.2,1556.3 321.5,1557.7 330.9,1558.8 340.2,1560.0 349.6,1561.0 358.9,1560.0" fill="none" stroke="#16961e" stroke-width="1.8" stroke-dasharray="3,2.74"/><polyline points="69.5,1396.0 78.8,1395.5 88.2,1395.0 97.5,1395.0 106.8,1395.0 116.2,1395.8 125.5,1396.7 134.8,1399.0 144.2,1398.3 153.5,1395.0 162.9,1391.7 172.2,1391.7 181.5,1389.7 190.9,1387.7 200.2,1383.3 209.5,1384.2 218.9,1385.0 228.2,1384.3 237.5,1380.0 246.9,1377.7 256.2,1379.0 265.5,1383.3 274.9,1386.0 284.2,1386.3 293.5,1386.7 302.9,1390.7 312.2,1392.0 321.5,1393.3 330.9,1395.5 340.2,1397.7 349.6,1404.3 358.9,1402.3" fill="none" stroke="#fff" stroke-opacity="0.3" stroke-width="3.9000000000000004" stroke-dasharray="5.8,2.8"/><polyline points="69.5,1396.0 78.8,1395.5 88.2,1395.0 97.5,1395.0 106.8,1395.0 116.2,1395.8 125.5,1396.7 134.8,1399.0 144.2,1398.3 153.5,1395.0 162.9,1391.7 172.2,1391.7 181.5,1389.7 190.9,1387.7 200.2,1383.3 209.5,1384.2 218.9,1385.0 228.2,1384.3 237.5,1380.0 246.9,1377.7 256.2,1379.0 265.5,1383.3 274.9,1386.0 284.2,1386.3 293.5,1386.7 302.9,1390.7 312.2,1392.0 321.5,1393.3 330.9,1395.5 340.2,1397.7 349.6,1404.3 358.9,1402.3" fill="none" stroke="#3a6ee0" stroke-width="1.7" stroke-dasharray="5.8,2.8"/><path d="M55.0,1273.9 V1606.4 H373.4" fill="none" stroke="#111" stroke-width="1.5" stroke-linecap="butt" stroke-linejoin="miter"/><text x="69.5" y="1622.7" class="tl" text-anchor="middle">1990</text><text x="116.2" y="1622.7" class="tl" text-anchor="middle">1995</text><text x="162.9" y="1622.7" class="tl" text-anchor="middle">2000</text><text x="209.5" y="1622.7" class="tl" text-anchor="middle">2005</text><text x="256.2" y="1622.7" class="tl" text-anchor="middle">2010</text><text x="302.9" y="1622.7" class="tl" text-anchor="middle">2015</text><text x="349.6" y="1622.7" class="tl" text-anchor="middle">2020</text><text x="48.5" y="1324.3" class="tl" text-anchor="end">500</text><text x="48.5" y="1392.0" class="tl" text-anchor="end">400</text><text x="48.5" y="1458.6" class="tl" text-anchor="end">300</text><text x="48.5" y="1525.3" class="tl" text-anchor="end">200</text><text x="48.5" y="1592.6" class="tl" text-anchor="end">100</text><path d="M69.5,1606.4 v3.7 M116.2,1606.4 v3.7 M162.9,1606.4 v3.7 M209.5,1606.4 v3.7 M256.2,1606.4 v3.7 M302.9,1606.4 v3.7 M349.6,1606.4 v3.7 M55.0,1320.0 h-3.7 M55.0,1387.7 h-3.7 M55.0,1454.3 h-3.7 M55.0,1521.0 h-3.7 M55.0,1588.3 h-3.7" stroke="#333" stroke-width="1.3"/><text x="214.2" y="1265.8" class="tt" text-anchor="middle">Middle SDI</text></g><g><polygon points="422.7,1387.3 432.0,1390.0 441.3,1394.3 450.7,1394.3 460.0,1394.3 469.3,1396.0 478.6,1397.7 487.9,1396.7 497.3,1392.3 506.6,1386.7 515.9,1390.0 525.2,1388.3 534.5,1386.7 543.9,1393.3 553.2,1395.0 562.5,1391.7 571.8,1388.3 581.1,1388.3 590.5,1388.3 599.8,1389.0 609.1,1392.7 618.4,1397.7 627.7,1395.7 637.1,1394.3 646.4,1398.3 655.7,1405.7 665.0,1405.0 674.3,1405.7 683.7,1411.0 693.0,1415.7 702.3,1417.0 711.6,1418.3 711.6,1528.3 702.3,1527.5 693.0,1526.7 683.7,1523.3 674.3,1520.0 665.0,1519.5 655.7,1519.0 646.4,1517.8 637.1,1516.7 627.7,1518.3 618.4,1520.0 609.1,1517.7 599.8,1517.2 590.5,1516.7 581.1,1517.5 571.8,1518.3 562.5,1519.2 553.2,1520.0 543.9,1520.8 534.5,1521.7 525.2,1522.2 515.9,1522.7 506.6,1524.7 497.3,1526.7 487.9,1527.5 478.6,1528.3 469.3,1528.3 460.0,1528.3 450.7,1528.7 441.3,1529.0 432.0,1527.8 422.7,1526.7" fill="#262626" fill-opacity="0.2"/><polygon points="422.7,1431.7 432.0,1436.7 441.3,1439.2 450.7,1441.7 460.0,1442.5 469.3,1443.3 478.6,1445.0 487.9,1446.7 497.3,1449.2 506.6,1451.7 515.9,1455.0 525.2,1457.5 534.5,1460.0 543.9,1465.7 553.2,1471.0 562.5,1471.7 571.8,1473.3 581.1,1475.0 590.5,1476.7 599.8,1477.7 609.1,1482.3 618.4,1488.3 627.7,1485.0 637.1,1483.3 646.4,1486.7 655.7,1490.0 665.0,1488.3 674.3,1491.7 683.7,1496.7 693.0,1500.0 702.3,1500.0 711.6,1500.0 711.6,1590.0 702.3,1590.5 693.0,1591.0 683.7,1588.0 674.3,1585.0 665.0,1583.7 655.7,1582.3 646.4,1581.2 637.1,1580.0 627.7,1581.7 618.4,1583.3 609.1,1580.8 599.8,1578.3 590.5,1578.3 581.1,1578.3 571.8,1576.7 562.5,1575.0 553.2,1573.3 543.9,1571.7 534.5,1570.0 525.2,1569.5 515.9,1569.0 506.6,1570.3 497.3,1571.7 487.9,1571.1 478.6,1570.6 469.3,1570.0 460.0,1569.4 450.7,1568.9 441.3,1568.3 432.0,1567.5 422.7,1566.7" fill="#c84b9b" fill-opacity="0.2"/><polygon points="422.7,1331.0 432.0,1332.3 441.3,1336.7 450.7,1335.0 460.0,1333.3 469.3,1334.3 478.6,1336.0 487.9,1331.0 497.3,1323.3 506.6,1312.3 515.9,1311.7 525.2,1311.0 534.5,1306.7 543.9,1315.7 553.2,1310.0 562.5,1305.0 571.8,1295.7 581.1,1295.0 590.5,1289.0 599.8,1288.3 609.1,1291.7 618.4,1299.0 627.7,1300.0 637.1,1301.0 646.4,1305.0 655.7,1310.0 665.0,1313.3 674.3,1313.3 683.7,1318.3 693.0,1322.3 702.3,1325.7 711.6,1324.3 711.6,1474.3 702.3,1475.0 693.0,1471.7 683.7,1468.3 674.3,1465.7 665.0,1465.0 655.7,1465.7 646.4,1462.3 637.1,1459.0 627.7,1461.0 618.4,1462.3 609.1,1458.3 599.8,1456.7 590.5,1458.3 581.1,1463.3 571.8,1465.7 562.5,1471.0 553.2,1473.3 543.9,1476.7 534.5,1474.3 525.2,1478.3 515.9,1480.0 506.6,1482.3 497.3,1490.0 487.9,1495.7 478.6,1499.0 469.3,1499.5 460.0,1500.0 450.7,1503.3 441.3,1502.3 432.0,1502.0 422.7,1501.7" fill="#9048a0" fill-opacity="0.2"/><polyline points="422.7,1458.3 432.0,1460.3 441.3,1462.3 450.7,1463.3 460.0,1461.7 469.3,1463.0 478.6,1464.3 487.9,1462.3 497.3,1458.3 506.6,1454.3 515.9,1455.0 525.2,1453.8 534.5,1452.7 543.9,1457.7 553.2,1458.3 562.5,1455.0 571.8,1451.7 581.1,1452.7 590.5,1451.0 599.8,1451.0 609.1,1453.3 618.4,1456.7 627.7,1455.0 637.1,1454.3 646.4,1458.3 655.7,1461.0 665.0,1461.7 674.3,1463.3 683.7,1466.7 693.0,1470.0 702.3,1471.7 711.6,1471.7" fill="none" stroke="#fff" stroke-opacity="0.3" stroke-width="3.8000000000000003"/><polyline points="422.7,1458.3 432.0,1460.3 441.3,1462.3 450.7,1463.3 460.0,1461.7 469.3,1463.0 478.6,1464.3 487.9,1462.3 497.3,1458.3 506.6,1454.3 515.9,1455.0 525.2,1453.8 534.5,1452.7 543.9,1457.7 553.2,1458.3 562.5,1455.0 571.8,1451.7 581.1,1452.7 590.5,1451.0 599.8,1451.0 609.1,1453.3 618.4,1456.7 627.7,1455.0 637.1,1454.3 646.4,1458.3 655.7,1461.0 665.0,1461.7 674.3,1463.3 683.7,1466.7 693.0,1470.0 702.3,1471.7 711.6,1471.7" fill="none" stroke="#d0504a" stroke-width="1.6"/><polyline points="422.7,1501.7 432.0,1505.7 441.3,1507.0 450.7,1508.3 460.0,1509.2 469.3,1510.0 478.6,1511.2 487.9,1512.3 497.3,1512.7 506.6,1513.0 515.9,1513.3 525.2,1514.5 534.5,1515.7 543.9,1520.0 553.2,1523.3 562.5,1523.8 571.8,1524.3 581.1,1527.7 590.5,1528.3 599.8,1529.0 609.1,1531.7 618.4,1535.7 627.7,1532.8 637.1,1530.0 646.4,1532.8 655.7,1535.7 665.0,1536.7 674.3,1539.0 683.7,1541.7 693.0,1544.3 702.3,1544.3 711.6,1544.3" fill="none" stroke="#fff" stroke-opacity="0.3" stroke-width="4.0" stroke-dasharray="3,2.74"/><polyline points="422.7,1501.7 432.0,1505.7 441.3,1507.0 450.7,1508.3 460.0,1509.2 469.3,1510.0 478.6,1511.2 487.9,1512.3 497.3,1512.7 506.6,1513.0 515.9,1513.3 525.2,1514.5 534.5,1515.7 543.9,1520.0 553.2,1523.3 562.5,1523.8 571.8,1524.3 581.1,1527.7 590.5,1528.3 599.8,1529.0 609.1,1531.7 618.4,1535.7 627.7,1532.8 637.1,1530.0 646.4,1532.8 655.7,1535.7 665.0,1536.7 674.3,1539.0 683.7,1541.7 693.0,1544.3 702.3,1544.3 711.6,1544.3" fill="none" stroke="#16961e" stroke-width="1.8" stroke-dasharray="3,2.74"/><polyline points="422.7,1415.7 432.0,1416.7 441.3,1420.0 450.7,1419.0 460.0,1415.7 469.3,1417.7 478.6,1417.7 487.9,1414.3 497.3,1406.7 506.6,1396.7 515.9,1396.7 525.2,1394.3 534.5,1390.7 543.9,1396.7 553.2,1391.7 562.5,1386.7 571.8,1378.3 581.1,1376.7 590.5,1371.0 599.8,1371.0 609.1,1373.3 618.4,1376.7 627.7,1376.7 637.1,1377.7 646.4,1381.7 655.7,1385.7 665.0,1386.7 674.3,1388.3 683.7,1393.3 693.0,1396.7 702.3,1398.3 711.6,1398.3" fill="none" stroke="#fff" stroke-opacity="0.3" stroke-width="3.9000000000000004" stroke-dasharray="5.8,2.8"/><polyline points="422.7,1415.7 432.0,1416.7 441.3,1420.0 450.7,1419.0 460.0,1415.7 469.3,1417.7 478.6,1417.7 487.9,1414.3 497.3,1406.7 506.6,1396.7 515.9,1396.7 525.2,1394.3 534.5,1390.7 543.9,1396.7 553.2,1391.7 562.5,1386.7 571.8,1378.3 581.1,1376.7 590.5,1371.0 599.8,1371.0 609.1,1373.3 618.4,1376.7 627.7,1376.7 637.1,1377.7 646.4,1381.7 655.7,1385.7 665.0,1386.7 674.3,1388.3 683.7,1393.3 693.0,1396.7 702.3,1398.3 711.6,1398.3" fill="none" stroke="#3a6ee0" stroke-width="1.7" stroke-dasharray="5.8,2.8"/><path d="M408.3,1273.9 V1606.4 H726.1" fill="none" stroke="#111" stroke-width="1.5" stroke-linecap="butt" stroke-linejoin="miter"/><text x="422.7" y="1622.7" class="tl" text-anchor="middle">1990</text><text x="469.3" y="1622.7" class="tl" text-anchor="middle">1995</text><text x="515.9" y="1622.7" class="tl" text-anchor="middle">2000</text><text x="562.5" y="1622.7" class="tl" text-anchor="middle">2005</text><text x="609.1" y="1622.7" class="tl" text-anchor="middle">2010</text><text x="655.7" y="1622.7" class="tl" text-anchor="middle">2015</text><text x="702.3" y="1622.7" class="tl" text-anchor="middle">2020</text><text x="401.8" y="1302.0" class="tl" text-anchor="end">600</text><text x="401.8" y="1367.6" class="tl" text-anchor="end">500</text><text x="401.8" y="1433.6" class="tl" text-anchor="end">400</text><text x="401.8" y="1499.3" class="tl" text-anchor="end">300</text><text x="401.8" y="1565.3" class="tl" text-anchor="end">200</text><path d="M422.7,1606.4 v3.7 M469.3,1606.4 v3.7 M515.9,1606.4 v3.7 M562.5,1606.4 v3.7 M609.1,1606.4 v3.7 M655.7,1606.4 v3.7 M702.3,1606.4 v3.7 M408.3,1297.7 h-3.7 M408.3,1363.3 h-3.7 M408.3,1429.3 h-3.7 M408.3,1495.0 h-3.7 M408.3,1561.0 h-3.7" stroke="#333" stroke-width="1.3"/><text x="567.2" y="1265.8" class="tt" text-anchor="middle">Low−middle SDI</text></g><g><polygon points="776.2,1359.0 785.5,1360.0 794.9,1360.5 804.2,1361.0 813.6,1358.3 822.9,1358.3 832.3,1355.0 841.6,1356.7 851.0,1351.7 860.3,1344.0 869.7,1344.3 879.0,1347.7 888.3,1353.3 897.7,1360.0 907.0,1359.0 916.4,1365.0 925.7,1365.0 935.1,1362.3 944.4,1359.0 953.8,1365.0 963.1,1372.3 972.4,1377.7 981.8,1377.7 991.1,1378.3 1000.5,1383.3 1009.8,1389.0 1019.2,1389.0 1028.5,1391.7 1037.9,1399.0 1047.2,1397.7 1056.6,1399.0 1065.9,1399.0 1065.9,1539.0 1056.6,1538.3 1047.2,1537.7 1037.9,1533.8 1028.5,1530.0 1019.2,1529.5 1009.8,1529.0 1000.5,1527.0 991.1,1525.0 981.8,1526.3 972.4,1527.7 963.1,1527.7 953.8,1524.7 944.4,1521.7 935.1,1523.0 925.7,1524.3 916.4,1522.7 907.0,1521.0 897.7,1520.0 888.3,1519.0 879.0,1518.3 869.7,1517.7 860.3,1521.0 851.0,1524.3 841.6,1525.5 832.3,1526.7 822.9,1527.8 813.6,1529.0 804.2,1529.5 794.9,1530.0 785.5,1531.2 776.2,1532.3" fill="#262626" fill-opacity="0.2"/><polygon points="776.2,1365.0 785.5,1365.8 794.9,1366.7 804.2,1371.7 813.6,1371.0 822.9,1375.7 832.3,1376.7 841.6,1380.0 851.0,1379.0 860.3,1372.7 869.7,1375.7 879.0,1380.0 888.3,1389.0 897.7,1398.3 907.0,1399.0 916.4,1406.7 925.7,1410.0 935.1,1415.0 944.4,1416.7 953.8,1421.7 963.1,1430.0 972.4,1436.7 981.8,1430.0 991.1,1431.0 1000.5,1435.0 1009.8,1440.0 1019.2,1442.3 1028.5,1445.0 1037.9,1455.7 1047.2,1453.3 1056.6,1453.3 1065.9,1455.7 1065.9,1591.0 1056.6,1590.7 1047.2,1590.3 1037.9,1590.0 1028.5,1585.0 1019.2,1584.2 1009.8,1583.3 1000.5,1582.5 991.1,1581.7 981.8,1584.2 972.4,1586.7 963.1,1586.7 953.8,1581.7 944.4,1577.7 935.1,1578.3 925.7,1576.7 916.4,1575.0 907.0,1573.7 897.7,1572.3 888.3,1568.3 879.0,1565.8 869.7,1563.3 860.3,1564.3 851.0,1565.5 841.6,1566.7 832.3,1565.8 822.9,1565.0 813.6,1565.3 804.2,1565.7 794.9,1562.3 785.5,1561.2 776.2,1560.0" fill="#c84b9b" fill-opacity="0.2"/><polygon points="776.2,1324.3 785.5,1322.3 794.9,1324.3 804.2,1321.7 813.6,1318.3 822.9,1316.7 832.3,1311.0 841.6,1310.0 851.0,1304.3 860.3,1294.3 869.7,1292.7 879.0,1295.0 888.3,1301.7 897.7,1303.3 907.0,1300.0 916.4,1303.3 925.7,1301.0 935.1,1290.0 944.4,1288.3 953.8,1291.7 963.1,1295.0 972.4,1297.7 981.8,1301.7 991.1,1304.0 1000.5,1310.0 1009.8,1316.7 1019.2,1316.7 1028.5,1319.3 1037.9,1326.7 1047.2,1326.7 1056.6,1328.3 1065.9,1325.0 1065.9,1501.0 1056.6,1498.8 1047.2,1496.7 1037.9,1493.3 1028.5,1490.0 1019.2,1490.5 1009.8,1491.0 1000.5,1488.3 991.1,1486.3 981.8,1484.3 972.4,1483.3 963.1,1482.3 953.8,1480.0 944.4,1480.5 935.1,1481.0 925.7,1486.7 916.4,1487.5 907.0,1488.3 897.7,1489.2 888.3,1490.0 879.0,1490.0 869.7,1490.0 860.3,1496.7 851.0,1503.3 841.6,1506.7 832.3,1510.0 822.9,1511.7 813.6,1513.3 804.2,1515.8 794.9,1518.3 785.5,1520.0 776.2,1521.7" fill="#9048a0" fill-opacity="0.2"/><polyline points="776.2,1445.7 785.5,1445.3 794.9,1445.0 804.2,1444.3 813.6,1443.0 822.9,1441.7 832.3,1441.0 841.6,1441.7 851.0,1436.7 860.3,1431.7 869.7,1431.0 879.0,1433.3 888.3,1438.3 897.7,1442.3 907.0,1441.7 916.4,1444.3 925.7,1446.7 935.1,1444.3 944.4,1443.3 953.8,1447.7 963.1,1453.3 972.4,1455.7 981.8,1454.3 991.1,1455.0 1000.5,1457.7 1009.8,1461.0 1019.2,1460.0 1028.5,1463.3 1037.9,1469.0 1047.2,1470.0 1056.6,1470.0 1065.9,1470.0" fill="none" stroke="#fff" stroke-opacity="0.3" stroke-width="3.8000000000000003"/><polyline points="776.2,1445.7 785.5,1445.3 794.9,1445.0 804.2,1444.3 813.6,1443.0 822.9,1441.7 832.3,1441.0 841.6,1441.7 851.0,1436.7 860.3,1431.7 869.7,1431.0 879.0,1433.3 888.3,1438.3 897.7,1442.3 907.0,1441.7 916.4,1444.3 925.7,1446.7 935.1,1444.3 944.4,1443.3 953.8,1447.7 963.1,1453.3 972.4,1455.7 981.8,1454.3 991.1,1455.0 1000.5,1457.7 1009.8,1461.0 1019.2,1460.0 1028.5,1463.3 1037.9,1469.0 1047.2,1470.0 1056.6,1470.0 1065.9,1470.0" fill="none" stroke="#d0504a" stroke-width="1.6"/><polyline points="776.2,1465.7 785.5,1466.7 794.9,1467.7 804.2,1469.0 813.6,1469.5 822.9,1470.0 832.3,1472.2 841.6,1474.3 851.0,1473.3 860.3,1470.0 869.7,1471.0 879.0,1474.3 888.3,1480.0 897.7,1488.3 907.0,1489.0 916.4,1493.3 925.7,1497.7 935.1,1500.0 944.4,1501.0 953.8,1505.0 963.1,1512.3 972.4,1517.7 981.8,1513.3 991.1,1511.7 1000.5,1513.3 1009.8,1515.7 1019.2,1515.7 1028.5,1518.3 1037.9,1525.0 1047.2,1525.2 1056.6,1525.4 1065.9,1525.7" fill="none" stroke="#fff" stroke-opacity="0.3" stroke-width="4.0" stroke-dasharray="3,2.74"/><polyline points="776.2,1465.7 785.5,1466.7 794.9,1467.7 804.2,1469.0 813.6,1469.5 822.9,1470.0 832.3,1472.2 841.6,1474.3 851.0,1473.3 860.3,1470.0 869.7,1471.0 879.0,1474.3 888.3,1480.0 897.7,1488.3 907.0,1489.0 916.4,1493.3 925.7,1497.7 935.1,1500.0 944.4,1501.0 953.8,1505.0 963.1,1512.3 972.4,1517.7 981.8,1513.3 991.1,1511.7 1000.5,1513.3 1009.8,1515.7 1019.2,1515.7 1028.5,1518.3 1037.9,1525.0 1047.2,1525.2 1056.6,1525.4 1065.9,1525.7" fill="none" stroke="#16961e" stroke-width="1.8" stroke-dasharray="3,2.74"/><polyline points="776.2,1425.0 785.5,1423.8 794.9,1422.7 804.2,1420.0 813.6,1416.7 822.9,1413.3 832.3,1408.3 841.6,1406.7 851.0,1400.0 860.3,1392.7 869.7,1390.0 879.0,1392.3 888.3,1393.7 897.7,1395.0 907.0,1393.3 916.4,1395.0 925.7,1393.3 935.1,1386.7 944.4,1385.0 953.8,1387.7 963.1,1391.7 972.4,1392.0 981.8,1392.3 991.1,1395.0 1000.5,1400.0 1009.8,1403.3 1019.2,1402.3 1028.5,1405.7 1037.9,1411.0 1047.2,1412.7 1056.6,1413.3 1065.9,1411.7" fill="none" stroke="#fff" stroke-opacity="0.3" stroke-width="3.9000000000000004" stroke-dasharray="5.8,2.8"/><polyline points="776.2,1425.0 785.5,1423.8 794.9,1422.7 804.2,1420.0 813.6,1416.7 822.9,1413.3 832.3,1408.3 841.6,1406.7 851.0,1400.0 860.3,1392.7 869.7,1390.0 879.0,1392.3 888.3,1393.7 897.7,1395.0 907.0,1393.3 916.4,1395.0 925.7,1393.3 935.1,1386.7 944.4,1385.0 953.8,1387.7 963.1,1391.7 972.4,1392.0 981.8,1392.3 991.1,1395.0 1000.5,1400.0 1009.8,1403.3 1019.2,1402.3 1028.5,1405.7 1037.9,1411.0 1047.2,1412.7 1056.6,1413.3 1065.9,1411.7" fill="none" stroke="#3a6ee0" stroke-width="1.7" stroke-dasharray="5.8,2.8"/><path d="M761.7,1273.9 V1606.4 H1080.4" fill="none" stroke="#111" stroke-width="1.5" stroke-linecap="butt" stroke-linejoin="miter"/><text x="776.2" y="1622.7" class="tl" text-anchor="middle">1990</text><text x="822.9" y="1622.7" class="tl" text-anchor="middle">1995</text><text x="869.7" y="1622.7" class="tl" text-anchor="middle">2000</text><text x="916.4" y="1622.7" class="tl" text-anchor="middle">2005</text><text x="963.1" y="1622.7" class="tl" text-anchor="middle">2010</text><text x="1009.8" y="1622.7" class="tl" text-anchor="middle">2015</text><text x="1056.6" y="1622.7" class="tl" text-anchor="middle">2020</text><text x="755.2" y="1366.0" class="tl" text-anchor="end">400</text><text x="755.2" y="1461.6" class="tl" text-anchor="end">300</text><text x="755.2" y="1556.6" class="tl" text-anchor="end">200</text><path d="M776.2,1606.4 v3.7 M822.9,1606.4 v3.7 M869.7,1606.4 v3.7 M916.4,1606.4 v3.7 M963.1,1606.4 v3.7 M1009.8,1606.4 v3.7 M1056.6,1606.4 v3.7 M761.7,1361.7 h-3.7 M761.7,1457.3 h-3.7 M761.7,1552.3 h-3.7" stroke="#333" stroke-width="1.3"/><text x="921.0" y="1265.8" class="tt" text-anchor="middle">Low SDI</text></g><g><polygon points="69.0,1814.0 78.5,1812.3 88.1,1810.7 97.6,1809.5 107.1,1808.3 116.7,1807.5 126.2,1806.7 135.7,1806.7 145.2,1806.7 154.8,1806.3 164.3,1806.0 173.8,1804.7 183.4,1803.3 192.9,1801.7 202.4,1800.0 211.9,1798.7 221.5,1797.3 231.0,1799.5 240.5,1801.7 250.1,1802.2 259.6,1802.7 269.1,1802.2 278.7,1801.7 288.2,1800.5 297.7,1799.3 307.2,1800.0 316.8,1800.7 326.3,1803.3 335.8,1806.0 345.4,1806.3 354.9,1806.7 364.4,1802.7 364.4,2027.3 354.9,2028.3 345.4,2028.8 335.8,2029.3 326.3,2029.7 316.8,2030.0 307.2,2030.0 297.7,2030.0 288.2,2030.8 278.7,2031.7 269.1,2032.2 259.6,2032.7 250.1,2033.0 240.5,2033.3 231.0,2033.7 221.5,2034.0 211.9,2035.3 202.4,2036.7 192.9,2038.3 183.4,2040.0 173.8,2040.3 164.3,2040.7 154.8,2040.3 145.2,2040.0 135.7,2040.3 126.2,2040.7 116.7,2041.2 107.1,2041.7 97.6,2042.2 88.1,2042.7 78.5,2043.0 69.0,2043.3" fill="#262626" fill-opacity="0.2"/><polygon points="69.0,1815.0 78.5,1813.3 88.1,1811.7 97.6,1810.0 107.1,1808.3 116.7,1807.2 126.2,1806.0 135.7,1805.5 145.2,1805.0 154.8,1807.2 164.3,1809.3 173.8,1809.7 183.4,1810.0 192.9,1811.3 202.4,1812.7 211.9,1813.3 221.5,1814.0 231.0,1815.0 240.5,1816.0 250.1,1817.7 259.6,1819.3 269.1,1820.5 278.7,1821.7 288.2,1821.7 297.7,1821.7 307.2,1822.5 316.8,1823.3 326.3,1824.7 335.8,1826.0 345.4,1826.0 354.9,1826.0 364.4,1822.7 364.4,2051.7 354.9,2052.2 345.4,2052.7 335.8,2053.8 326.3,2055.0 316.8,2056.2 307.2,2057.3 297.7,2058.7 288.2,2060.0 278.7,2061.7 269.1,2061.2 259.6,2060.7 250.1,2060.3 240.5,2060.0 231.0,2059.7 221.5,2059.3 211.9,2060.0 202.4,2060.7 192.9,2061.7 183.4,2062.7 173.8,2063.0 164.3,2063.3 154.8,2062.5 145.2,2061.7 135.7,2061.2 126.2,2060.7 116.7,2060.3 107.1,2060.0 97.6,2059.7 88.1,2059.3 78.5,2058.8 69.0,2058.3" fill="#c84b9b" fill-opacity="0.2"/><polygon points="69.0,1788.3 78.5,1787.5 88.1,1786.7 97.6,1784.0 107.1,1783.3 116.7,1782.7 126.2,1781.7 135.7,1780.7 145.2,1779.3 154.8,1779.3 164.3,1779.3 173.8,1778.3 183.4,1776.7 192.9,1775.0 202.4,1770.0 211.9,1766.0 221.5,1765.0 231.0,1763.3 240.5,1761.7 250.1,1766.0 259.6,1761.7 269.1,1764.0 278.7,1765.0 288.2,1766.0 297.7,1767.2 307.2,1768.3 316.8,1769.5 326.3,1770.7 335.8,1774.0 345.4,1777.3 354.9,1775.0 364.4,1773.3 364.4,2005.0 354.9,2006.0 345.4,2006.3 335.8,2006.7 326.3,2006.7 316.8,2006.7 307.2,2007.0 297.7,2007.3 288.2,2007.3 278.7,2007.3 269.1,2007.8 259.6,2008.3 250.1,2009.5 240.5,2010.7 231.0,2011.7 221.5,2012.7 211.9,2015.5 202.4,2018.3 192.9,2021.7 183.4,2025.0 173.8,2026.2 164.3,2027.3 154.8,2026.7 145.2,2026.0 135.7,2026.3 126.2,2026.7 116.7,2027.0 107.1,2027.3 97.6,2027.8 88.1,2028.3 78.5,2029.2 69.0,2030.0" fill="#9048a0" fill-opacity="0.2"/><polyline points="69.0,1940.0 78.5,1939.2 88.1,1938.3 97.6,1937.8 107.1,1937.3 116.7,1936.7 126.2,1936.0 135.7,1936.0 145.2,1936.0 154.8,1936.0 164.3,1936.0 173.8,1935.0 183.4,1934.0 192.9,1932.0 202.4,1930.0 211.9,1928.7 221.5,1927.3 231.0,1927.0 240.5,1926.7 250.1,1926.7 259.6,1926.7 269.1,1926.7 278.7,1926.7 288.2,1926.3 297.7,1926.0 307.2,1926.0 316.8,1926.0 326.3,1926.3 335.8,1926.7 345.4,1926.7 354.9,1924.7 364.4,1922.7" fill="none" stroke="#fff" stroke-opacity="0.3" stroke-width="3.8000000000000003"/><polyline points="69.0,1940.0 78.5,1939.2 88.1,1938.3 97.6,1937.8 107.1,1937.3 116.7,1936.7 126.2,1936.0 135.7,1936.0 145.2,1936.0 154.8,1936.0 164.3,1936.0 173.8,1935.0 183.4,1934.0 192.9,1932.0 202.4,1930.0 211.9,1928.7 221.5,1927.3 231.0,1927.0 240.5,1926.7 250.1,1926.7 259.6,1926.7 269.1,1926.7 278.7,1926.7 288.2,1926.3 297.7,1926.0 307.2,1926.0 316.8,1926.0 326.3,1926.3 335.8,1926.7 345.4,1926.7 354.9,1924.7 364.4,1922.7" fill="none" stroke="#d0504a" stroke-width="1.6"/><polyline points="69.0,1955.7 78.5,1955.4 88.1,1955.2 97.6,1955.0 107.1,1954.8 116.7,1954.6 126.2,1954.3 135.7,1954.7 145.2,1955.0 154.8,1955.5 164.3,1956.0 173.8,1955.8 183.4,1955.7 192.9,1954.5 202.4,1953.3 211.9,1953.0 221.5,1952.7 231.0,1953.0 240.5,1953.3 250.1,1953.7 259.6,1954.0 269.1,1954.0 278.7,1954.0 288.2,1953.7 297.7,1953.3 307.2,1953.3 316.8,1953.3 326.3,1953.3 335.8,1953.3 345.4,1952.3 354.9,1950.0 364.4,1947.7" fill="none" stroke="#fff" stroke-opacity="0.3" stroke-width="4.0" stroke-dasharray="3,2.74"/><polyline points="69.0,1955.7 78.5,1955.4 88.1,1955.2 97.6,1955.0 107.1,1954.8 116.7,1954.6 126.2,1954.3 135.7,1954.7 145.2,1955.0 154.8,1955.5 164.3,1956.0 173.8,1955.8 183.4,1955.7 192.9,1954.5 202.4,1953.3 211.9,1953.0 221.5,1952.7 231.0,1953.0 240.5,1953.3 250.1,1953.7 259.6,1954.0 269.1,1954.0 278.7,1954.0 288.2,1953.7 297.7,1953.3 307.2,1953.3 316.8,1953.3 326.3,1953.3 335.8,1953.3 345.4,1952.3 354.9,1950.0 364.4,1947.7" fill="none" stroke="#16961e" stroke-width="1.8" stroke-dasharray="3,2.74"/><polyline points="69.0,1925.0 78.5,1924.2 88.1,1923.3 97.6,1921.7 107.1,1920.0 116.7,1918.7 126.2,1917.3 135.7,1916.7 145.2,1916.0 154.8,1915.5 164.3,1915.0 173.8,1913.8 183.4,1912.7 192.9,1909.7 202.4,1906.7 211.9,1904.2 221.5,1901.7 231.0,1900.8 240.5,1900.0 250.1,1899.7 259.6,1899.3 269.1,1899.2 278.7,1899.0 288.2,1899.0 297.7,1899.0 307.2,1899.5 316.8,1900.0 326.3,1900.8 335.8,1901.7 345.4,1901.7 354.9,1900.0 364.4,1898.3" fill="none" stroke="#fff" stroke-opacity="0.3" stroke-width="3.9000000000000004" stroke-dasharray="5.8,2.8"/><polyline points="69.0,1925.0 78.5,1924.2 88.1,1923.3 97.6,1921.7 107.1,1920.0 116.7,1918.7 126.2,1917.3 135.7,1916.7 145.2,1916.0 154.8,1915.5 164.3,1915.0 173.8,1913.8 183.4,1912.7 192.9,1909.7 202.4,1906.7 211.9,1904.2 221.5,1901.7 231.0,1900.8 240.5,1900.0 250.1,1899.7 259.6,1899.3 269.1,1899.2 278.7,1899.0 288.2,1899.0 297.7,1899.0 307.2,1899.5 316.8,1900.0 326.3,1900.8 335.8,1901.7 345.4,1901.7 354.9,1900.0 364.4,1898.3" fill="none" stroke="#3a6ee0" stroke-width="1.7" stroke-dasharray="5.8,2.8"/><path d="M54.3,1746.7 V2079.6 H379.2" fill="none" stroke="#111" stroke-width="1.5" stroke-linecap="butt" stroke-linejoin="miter"/><text x="69.0" y="2095.9" class="tl" text-anchor="middle">1990</text><text x="116.7" y="2095.9" class="tl" text-anchor="middle">1995</text><text x="164.3" y="2095.9" class="tl" text-anchor="middle">2000</text><text x="211.9" y="2095.9" class="tl" text-anchor="middle">2005</text><text x="259.6" y="2095.9" class="tl" text-anchor="middle">2010</text><text x="307.2" y="2095.9" class="tl" text-anchor="middle">2015</text><text x="354.9" y="2095.9" class="tl" text-anchor="middle">2020</text><text x="47.8" y="1837.6" class="tl" text-anchor="end">30</text><text x="47.8" y="1957.0" class="tl" text-anchor="end">20</text><text x="47.8" y="2076.8" class="tl" text-anchor="end">10</text><path d="M69.0,2079.6 v3.7 M116.7,2079.6 v3.7 M164.3,2079.6 v3.7 M211.9,2079.6 v3.7 M259.6,2079.6 v3.7 M307.2,2079.6 v3.7 M354.9,2079.6 v3.7 M54.3,1833.3 h-3.7 M54.3,1952.7 h-3.7 M54.3,2072.5 h-3.7" stroke="#333" stroke-width="1.3"/><text x="216.8" y="1738.6" class="tt" text-anchor="middle">Global</text></g><g><polygon points="422.3,1822.7 431.8,1825.0 441.4,1826.2 450.9,1827.3 460.4,1827.8 469.9,1828.3 479.5,1830.0 489.0,1831.7 498.5,1830.0 508.1,1833.3 517.6,1836.7 527.1,1840.8 536.7,1845.0 546.2,1849.5 555.7,1854.0 565.2,1857.3 574.8,1860.7 584.3,1862.3 593.8,1864.0 603.4,1864.5 612.9,1865.0 622.4,1864.2 632.0,1863.3 641.5,1861.3 651.0,1859.3 660.5,1856.3 670.1,1853.3 679.6,1850.8 689.1,1848.3 698.7,1845.8 708.2,1843.3 717.7,1838.3 717.7,2012.7 708.2,2012.7 698.7,2013.3 689.1,2014.0 679.6,2015.0 670.1,2016.0 660.5,2017.2 651.0,2018.3 641.5,2020.0 632.0,2021.7 622.4,2022.5 612.9,2023.3 603.4,2023.7 593.8,2024.0 584.3,2023.7 574.8,2023.3 565.2,2022.5 555.7,2021.7 546.2,2020.0 536.7,2018.3 527.1,2016.7 517.6,2015.0 508.1,2013.3 498.5,2011.7 489.0,2010.5 479.5,2009.3 469.9,2008.3 460.4,2007.3 450.9,2006.7 441.4,2006.0 431.8,2005.0 422.3,2004.0" fill="#262626" fill-opacity="0.2"/><polygon points="422.3,1876.7 431.8,1879.2 441.4,1881.7 450.9,1882.8 460.4,1883.9 469.9,1885.0 479.5,1888.3 489.0,1892.5 498.5,1896.7 508.1,1900.8 517.6,1905.0 527.1,1908.8 536.7,1912.7 546.2,1917.2 555.7,1921.7 565.2,1925.5 574.8,1929.3 584.3,1930.0 593.8,1929.7 603.4,1929.3 612.9,1925.0 622.4,1920.8 632.0,1916.7 641.5,1911.7 651.0,1906.7 660.5,1904.2 670.1,1901.7 679.6,1898.8 689.1,1896.0 698.7,1893.0 708.2,1890.0 717.7,1883.3 717.7,2050.7 708.2,2050.0 698.7,2050.8 689.1,2051.7 679.6,2052.5 670.1,2053.3 660.5,2055.3 651.0,2057.3 641.5,2059.0 632.0,2060.7 622.4,2062.0 612.9,2063.3 603.4,2063.7 593.8,2064.0 584.3,2063.7 574.8,2063.3 565.2,2062.0 555.7,2060.7 546.2,2058.7 536.7,2056.7 527.1,2055.0 517.6,2053.3 508.1,2051.7 498.5,2050.0 489.0,2048.7 479.5,2047.3 469.9,2045.3 460.4,2043.3 450.9,2042.5 441.4,2041.7 431.8,2040.5 422.3,2039.3" fill="#c84b9b" fill-opacity="0.2"/><polygon points="422.3,1765.0 431.8,1767.3 441.4,1765.0 450.9,1765.0 460.4,1765.0 469.9,1761.7 479.5,1766.0 489.0,1770.0 498.5,1770.0 508.1,1773.3 517.6,1776.0 527.1,1780.7 536.7,1783.3 546.2,1786.0 555.7,1788.3 565.2,1792.7 574.8,1797.3 584.3,1796.0 593.8,1797.3 603.4,1798.3 612.9,1798.3 622.4,1796.0 632.0,1797.3 641.5,1794.0 651.0,1791.7 660.5,1787.3 670.1,1783.3 679.6,1785.0 689.1,1787.3 698.7,1786.7 708.2,1785.5 717.7,1784.3 717.7,1976.0 708.2,1977.3 698.7,1978.7 689.1,1980.0 679.6,1980.8 670.1,1981.7 660.5,1982.5 651.0,1983.3 641.5,1984.7 632.0,1986.0 622.4,1987.2 612.9,1988.3 603.4,1988.8 593.8,1989.3 584.3,1988.8 574.8,1988.3 565.2,1986.2 555.7,1984.0 546.2,1983.7 536.7,1983.3 527.1,1982.5 517.6,1981.7 508.1,1980.0 498.5,1978.3 489.0,1977.5 479.5,1976.7 469.9,1975.8 460.4,1975.0 450.9,1974.2 441.4,1973.3 431.8,1971.7 422.3,1970.0" fill="#9048a0" fill-opacity="0.2"/><polyline points="422.3,1920.7 431.8,1921.5 441.4,1922.3 450.9,1922.8 460.4,1923.3 469.9,1924.2 479.5,1925.0 489.0,1926.7 498.5,1928.3 508.1,1930.8 517.6,1933.3 527.1,1936.3 536.7,1939.3 546.2,1942.2 555.7,1945.0 565.2,1947.5 574.8,1950.0 584.3,1950.5 593.8,1951.0 603.4,1950.2 612.9,1949.3 622.4,1947.7 632.0,1946.0 641.5,1943.8 651.0,1941.7 660.5,1939.5 670.1,1937.3 679.6,1936.7 689.1,1936.0 698.7,1935.2 708.2,1934.3 717.7,1933.3" fill="none" stroke="#fff" stroke-opacity="0.3" stroke-width="3.8000000000000003"/><polyline points="422.3,1920.7 431.8,1921.5 441.4,1922.3 450.9,1922.8 460.4,1923.3 469.9,1924.2 479.5,1925.0 489.0,1926.7 498.5,1928.3 508.1,1930.8 517.6,1933.3 527.1,1936.3 536.7,1939.3 546.2,1942.2 555.7,1945.0 565.2,1947.5 574.8,1950.0 584.3,1950.5 593.8,1951.0 603.4,1950.2 612.9,1949.3 622.4,1947.7 632.0,1946.0 641.5,1943.8 651.0,1941.7 660.5,1939.5 670.1,1937.3 679.6,1936.7 689.1,1936.0 698.7,1935.2 708.2,1934.3 717.7,1933.3" fill="none" stroke="#d0504a" stroke-width="1.6"/><polyline points="422.3,1966.7 431.8,1968.7 441.4,1970.7 450.9,1971.6 460.4,1972.4 469.9,1973.3 479.5,1975.0 489.0,1976.7 498.5,1980.0 508.1,1983.3 517.6,1986.7 527.1,1990.0 536.7,1993.3 546.2,1996.7 555.7,2000.0 565.2,2003.3 574.8,2004.7 584.3,2006.0 593.8,2005.5 603.4,2005.0 612.9,2002.8 622.4,2000.7 632.0,1997.8 641.5,1995.0 651.0,1992.2 660.5,1989.3 670.1,1987.7 679.6,1986.0 689.1,1984.7 698.7,1983.3 708.2,1981.7 717.7,1980.0" fill="none" stroke="#fff" stroke-opacity="0.3" stroke-width="4.0" stroke-dasharray="3,2.74"/><polyline points="422.3,1966.7 431.8,1968.7 441.4,1970.7 450.9,1971.6 460.4,1972.4 469.9,1973.3 479.5,1975.0 489.0,1976.7 498.5,1980.0 508.1,1983.3 517.6,1986.7 527.1,1990.0 536.7,1993.3 546.2,1996.7 555.7,2000.0 565.2,2003.3 574.8,2004.7 584.3,2006.0 593.8,2005.5 603.4,2005.0 612.9,2002.8 622.4,2000.7 632.0,1997.8 641.5,1995.0 651.0,1992.2 660.5,1989.3 670.1,1987.7 679.6,1986.0 689.1,1984.7 698.7,1983.3 708.2,1981.7 717.7,1980.0" fill="none" stroke="#16961e" stroke-width="1.8" stroke-dasharray="3,2.74"/><polyline points="422.3,1876.0 431.8,1876.4 441.4,1876.9 450.9,1877.3 460.4,1877.3 469.9,1877.3 479.5,1878.7 489.0,1880.0 498.5,1883.3 508.1,1886.7 517.6,1889.7 527.1,1892.7 536.7,1894.7 546.2,1896.7 555.7,1897.5 565.2,1898.3 574.8,1898.8 584.3,1899.3 593.8,1898.8 603.4,1898.3 612.9,1897.2 622.4,1896.0 632.0,1894.7 641.5,1893.3 651.0,1891.7 660.5,1890.0 670.1,1889.5 679.6,1889.0 689.1,1889.5 698.7,1890.0 708.2,1890.5 717.7,1891.0" fill="none" stroke="#fff" stroke-opacity="0.3" stroke-width="3.9000000000000004" stroke-dasharray="5.8,2.8"/><polyline points="422.3,1876.0 431.8,1876.4 441.4,1876.9 450.9,1877.3 460.4,1877.3 469.9,1877.3 479.5,1878.7 489.0,1880.0 498.5,1883.3 508.1,1886.7 517.6,1889.7 527.1,1892.7 536.7,1894.7 546.2,1896.7 555.7,1897.5 565.2,1898.3 574.8,1898.8 584.3,1899.3 593.8,1898.8 603.4,1898.3 612.9,1897.2 622.4,1896.0 632.0,1894.7 641.5,1893.3 651.0,1891.7 660.5,1890.0 670.1,1889.5 679.6,1889.0 689.1,1889.5 698.7,1890.0 708.2,1890.5 717.7,1891.0" fill="none" stroke="#3a6ee0" stroke-width="1.7" stroke-dasharray="5.8,2.8"/><path d="M407.7,1746.7 V2079.6 H732.5" fill="none" stroke="#111" stroke-width="1.5" stroke-linecap="butt" stroke-linejoin="miter"/><text x="422.3" y="2095.9" class="tl" text-anchor="middle">1990</text><text x="469.9" y="2095.9" class="tl" text-anchor="middle">1995</text><text x="517.6" y="2095.9" class="tl" text-anchor="middle">2000</text><text x="565.2" y="2095.9" class="tl" text-anchor="middle">2005</text><text x="612.9" y="2095.9" class="tl" text-anchor="middle">2010</text><text x="660.5" y="2095.9" class="tl" text-anchor="middle">2015</text><text x="708.2" y="2095.9" class="tl" text-anchor="middle">2020</text><text x="401.2" y="1821.0" class="tl" text-anchor="end">30</text><text x="401.2" y="1926.0" class="tl" text-anchor="end">20</text><text x="401.2" y="2031.0" class="tl" text-anchor="end">10</text><path d="M422.3,2079.6 v3.7 M469.9,2079.6 v3.7 M517.6,2079.6 v3.7 M565.2,2079.6 v3.7 M612.9,2079.6 v3.7 M660.5,2079.6 v3.7 M708.2,2079.6 v3.7 M407.7,1816.7 h-3.7 M407.7,1921.7 h-3.7 M407.7,2026.7 h-3.7" stroke="#333" stroke-width="1.3"/><text x="570.1" y="1738.6" class="tt" text-anchor="middle">High SDI</text></g><g><polygon points="776.0,1826.0 785.5,1821.7 795.0,1815.0 804.5,1813.3 814.1,1811.7 823.6,1809.5 833.1,1807.3 842.6,1805.3 852.1,1803.3 861.6,1802.5 871.2,1801.7 880.7,1801.7 890.2,1801.7 899.7,1800.0 909.2,1798.3 918.7,1795.5 928.3,1792.7 937.8,1789.3 947.3,1793.3 956.8,1795.8 966.3,1798.3 975.8,1801.7 985.4,1805.0 994.9,1806.7 1004.4,1808.3 1013.9,1810.8 1023.4,1813.3 1032.9,1814.7 1042.4,1816.0 1052.0,1819.3 1061.5,1822.7 1071.0,1816.7 1071.0,2035.0 1061.5,2035.0 1052.0,2035.0 1042.4,2035.0 1032.9,2034.2 1023.4,2033.3 1013.9,2032.0 1004.4,2030.7 994.9,2030.3 985.4,2030.0 975.8,2030.0 966.3,2030.0 956.8,2029.7 947.3,2029.3 937.8,2029.3 928.3,2029.3 918.7,2030.5 909.2,2031.7 899.7,2035.0 890.2,2038.3 880.7,2039.2 871.2,2040.0 861.6,2039.7 852.1,2039.3 842.6,2039.3 833.1,2039.3 823.6,2038.8 814.1,2038.3 804.5,2040.0 795.0,2041.7 785.5,2042.8 776.0,2044.0" fill="#262626" fill-opacity="0.2"/><polygon points="776.0,1791.0 785.5,1788.8 795.0,1786.7 804.5,1783.3 814.1,1777.3 823.6,1775.0 833.1,1775.0 842.6,1770.0 852.1,1771.7 861.6,1771.7 871.2,1770.0 880.7,1769.3 890.2,1768.3 899.7,1770.7 909.2,1767.3 918.7,1769.3 928.3,1761.7 937.8,1770.0 947.3,1767.3 956.8,1770.0 966.3,1776.7 975.8,1781.7 985.4,1786.7 994.9,1789.3 1004.4,1790.0 1013.9,1791.7 1023.4,1794.0 1032.9,1798.3 1042.4,1803.3 1052.0,1804.0 1061.5,1804.0 1071.0,1805.0 1071.0,2063.3 1061.5,2063.1 1052.0,2062.9 1042.4,2062.7 1032.9,2062.2 1023.4,2061.7 1013.9,2061.2 1004.4,2060.7 994.9,2060.0 985.4,2059.3 975.8,2058.8 966.3,2058.3 956.8,2057.8 947.3,2057.3 937.8,2057.0 928.3,2056.7 918.7,2058.3 909.2,2060.0 899.7,2060.8 890.2,2061.7 880.7,2062.2 871.2,2062.7 861.6,2061.3 852.1,2060.0 842.6,2059.2 833.1,2058.3 823.6,2058.8 814.1,2059.3 804.5,2060.0 795.0,2060.7 785.5,2060.7 776.0,2060.7" fill="#c84b9b" fill-opacity="0.2"/><polygon points="776.0,1799.3 785.5,1799.7 795.0,1800.0 804.5,1798.7 814.1,1797.3 823.6,1796.7 833.1,1796.0 842.6,1796.3 852.1,1796.7 861.6,1795.3 871.2,1794.0 880.7,1796.0 890.2,1794.0 899.7,1785.0 909.2,1781.7 918.7,1778.3 928.3,1776.7 937.8,1776.0 947.3,1777.3 956.8,1781.7 966.3,1776.0 975.8,1781.7 985.4,1786.0 994.9,1789.3 1004.4,1790.0 1013.9,1791.7 1023.4,1794.2 1032.9,1796.7 1042.4,1801.7 1052.0,1801.7 1061.5,1800.5 1071.0,1799.3 1071.0,2022.7 1061.5,2022.7 1052.0,2022.7 1042.4,2022.7 1032.9,2022.2 1023.4,2021.7 1013.9,2021.7 1004.4,2021.7 994.9,2020.8 985.4,2020.0 975.8,2019.2 966.3,2018.3 956.8,2018.3 947.3,2018.3 937.8,2019.5 928.3,2020.7 918.7,2024.0 909.2,2027.3 899.7,2032.0 890.2,2036.7 880.7,2038.0 871.2,2039.3 861.6,2038.8 852.1,2038.3 842.6,2038.3 833.1,2038.3 823.6,2037.8 814.1,2037.3 804.5,2038.7 795.0,2040.0 785.5,2041.3 776.0,2042.7" fill="#9048a0" fill-opacity="0.2"/><polyline points="776.0,1947.7 785.5,1945.8 795.0,1944.0 804.5,1942.3 814.1,1940.7 823.6,1939.5 833.1,1938.3 842.6,1937.8 852.1,1937.3 861.6,1937.3 871.2,1937.3 880.7,1935.3 890.2,1933.3 899.7,1930.0 909.2,1926.7 918.7,1924.7 928.3,1922.7 937.8,1923.8 947.3,1925.0 956.8,1926.7 966.3,1928.3 975.8,1929.5 985.4,1930.7 994.9,1931.7 1004.4,1932.7 1013.9,1933.8 1023.4,1935.0 1032.9,1935.8 1042.4,1936.7 1052.0,1936.7 1061.5,1936.7 1071.0,1936.0" fill="none" stroke="#fff" stroke-opacity="0.3" stroke-width="3.8000000000000003"/><polyline points="776.0,1947.7 785.5,1945.8 795.0,1944.0 804.5,1942.3 814.1,1940.7 823.6,1939.5 833.1,1938.3 842.6,1937.8 852.1,1937.3 861.6,1937.3 871.2,1937.3 880.7,1935.3 890.2,1933.3 899.7,1930.0 909.2,1926.7 918.7,1924.7 928.3,1922.7 937.8,1923.8 947.3,1925.0 956.8,1926.7 966.3,1928.3 975.8,1929.5 985.4,1930.7 994.9,1931.7 1004.4,1932.7 1013.9,1933.8 1023.4,1935.0 1032.9,1935.8 1042.4,1936.7 1052.0,1936.7 1061.5,1936.7 1071.0,1936.0" fill="none" stroke="#d0504a" stroke-width="1.6"/><polyline points="776.0,1956.7 785.5,1955.0 795.0,1953.3 804.5,1951.7 814.1,1950.0 823.6,1948.7 833.1,1947.3 842.6,1947.0 852.1,1946.7 861.6,1946.7 871.2,1946.7 880.7,1944.2 890.2,1941.7 899.7,1939.2 909.2,1936.7 918.7,1936.3 928.3,1936.0 937.8,1938.0 947.3,1940.0 956.8,1942.5 966.3,1945.0 975.8,1946.2 985.4,1947.3 994.9,1948.7 1004.4,1950.0 1013.9,1950.8 1023.4,1951.7 1032.9,1952.5 1042.4,1953.3 1052.0,1953.7 1061.5,1954.0 1071.0,1953.3" fill="none" stroke="#fff" stroke-opacity="0.3" stroke-width="4.0" stroke-dasharray="3,2.74"/><polyline points="776.0,1956.7 785.5,1955.0 795.0,1953.3 804.5,1951.7 814.1,1950.0 823.6,1948.7 833.1,1947.3 842.6,1947.0 852.1,1946.7 861.6,1946.7 871.2,1946.7 880.7,1944.2 890.2,1941.7 899.7,1939.2 909.2,1936.7 918.7,1936.3 928.3,1936.0 937.8,1938.0 947.3,1940.0 956.8,1942.5 966.3,1945.0 975.8,1946.2 985.4,1947.3 994.9,1948.7 1004.4,1950.0 1013.9,1950.8 1023.4,1951.7 1032.9,1952.5 1042.4,1953.3 1052.0,1953.7 1061.5,1954.0 1071.0,1953.3" fill="none" stroke="#16961e" stroke-width="1.8" stroke-dasharray="3,2.74"/><polyline points="776.0,1939.3 785.5,1937.7 795.0,1936.0 804.5,1934.3 814.1,1932.7 823.6,1931.3 833.1,1930.0 842.6,1929.2 852.1,1928.3 861.6,1928.3 871.2,1928.3 880.7,1926.7 890.2,1925.0 899.7,1920.8 909.2,1916.7 918.7,1913.3 928.3,1910.0 937.8,1910.0 947.3,1910.0 956.8,1911.3 966.3,1912.7 975.8,1913.8 985.4,1915.0 994.9,1916.2 1004.4,1917.3 1013.9,1918.7 1023.4,1920.0 1032.9,1920.8 1042.4,1921.7 1052.0,1921.7 1061.5,1921.7 1071.0,1920.7" fill="none" stroke="#fff" stroke-opacity="0.3" stroke-width="3.9000000000000004" stroke-dasharray="5.8,2.8"/><polyline points="776.0,1939.3 785.5,1937.7 795.0,1936.0 804.5,1934.3 814.1,1932.7 823.6,1931.3 833.1,1930.0 842.6,1929.2 852.1,1928.3 861.6,1928.3 871.2,1928.3 880.7,1926.7 890.2,1925.0 899.7,1920.8 909.2,1916.7 918.7,1913.3 928.3,1910.0 937.8,1910.0 947.3,1910.0 956.8,1911.3 966.3,1912.7 975.8,1913.8 985.4,1915.0 994.9,1916.2 1004.4,1917.3 1013.9,1918.7 1023.4,1920.0 1032.9,1920.8 1042.4,1921.7 1052.0,1921.7 1061.5,1921.7 1071.0,1920.7" fill="none" stroke="#3a6ee0" stroke-width="1.7" stroke-dasharray="5.8,2.8"/><path d="M761.0,1746.7 V2079.6 H1085.7" fill="none" stroke="#111" stroke-width="1.5" stroke-linecap="butt" stroke-linejoin="miter"/><text x="776.0" y="2095.9" class="tl" text-anchor="middle">1990</text><text x="823.6" y="2095.9" class="tl" text-anchor="middle">1995</text><text x="871.2" y="2095.9" class="tl" text-anchor="middle">2000</text><text x="918.7" y="2095.9" class="tl" text-anchor="middle">2005</text><text x="966.3" y="2095.9" class="tl" text-anchor="middle">2010</text><text x="1013.9" y="2095.9" class="tl" text-anchor="middle">2015</text><text x="1061.5" y="2095.9" class="tl" text-anchor="middle">2020</text><text x="754.5" y="1800.0" class="tl" text-anchor="end">40</text><text x="754.5" y="1892.0" class="tl" text-anchor="end">30</text><text x="754.5" y="1984.3" class="tl" text-anchor="end">20</text><text x="754.5" y="2077.0" class="tl" text-anchor="end">10</text><path d="M776.0,2079.6 v3.7 M823.6,2079.6 v3.7 M871.2,2079.6 v3.7 M918.7,2079.6 v3.7 M966.3,2079.6 v3.7 M1013.9,2079.6 v3.7 M1061.5,2079.6 v3.7 M761.0,1795.7 h-3.7 M761.0,1887.7 h-3.7 M761.0,1980.0 h-3.7 M761.0,2072.7 h-3.7" stroke="#333" stroke-width="1.3"/><text x="923.4" y="1738.6" class="tt" text-anchor="middle">High−middle SDI</text></g><g><polygon points="69.0,2201.7 78.5,2200.8 88.1,2200.0 97.6,2195.0 107.1,2193.3 116.7,2191.7 126.2,2185.7 135.7,2184.5 145.2,2183.3 154.8,2183.8 164.3,2184.3 173.8,2183.0 183.4,2181.7 192.9,2180.8 202.4,2180.0 211.9,2178.3 221.5,2177.7 231.0,2175.0 240.5,2176.7 250.1,2176.2 259.6,2175.7 269.1,2176.7 278.7,2177.7 288.2,2178.3 297.7,2179.0 307.2,2179.5 316.8,2180.0 326.3,2182.2 335.8,2184.3 345.4,2185.0 354.9,2185.7 364.4,2181.7 364.4,2404.3 354.9,2405.0 345.4,2406.3 335.8,2407.7 326.3,2407.7 316.8,2407.7 307.2,2408.0 297.7,2408.3 288.2,2409.2 278.7,2410.0 269.1,2410.8 259.6,2411.7 250.1,2412.5 240.5,2413.3 231.0,2414.2 221.5,2415.0 211.9,2416.7 202.4,2418.3 192.9,2420.8 183.4,2423.3 173.8,2424.2 164.3,2425.0 154.8,2425.0 145.2,2425.0 135.7,2425.3 126.2,2425.7 116.7,2426.2 107.1,2426.7 97.6,2427.5 88.1,2428.3 78.5,2428.7 69.0,2429.0" fill="#262626" fill-opacity="0.2"/><polygon points="69.0,2165.0 78.5,2167.7 88.1,2166.7 97.6,2163.3 107.1,2163.3 116.7,2163.3 126.2,2155.7 135.7,2161.0 145.2,2160.5 154.8,2160.0 164.3,2158.3 173.8,2159.0 183.4,2156.7 192.9,2154.3 202.4,2155.7 211.9,2157.7 221.5,2162.3 231.0,2164.3 240.5,2167.7 250.1,2171.0 259.6,2173.3 269.1,2175.0 278.7,2175.7 288.2,2176.2 297.7,2176.7 307.2,2177.5 316.8,2178.3 326.3,2180.3 335.8,2182.3 345.4,2184.3 354.9,2183.3 364.4,2181.7 364.4,2431.7 354.9,2432.3 345.4,2434.5 335.8,2436.7 326.3,2437.2 316.8,2437.7 307.2,2438.0 297.7,2438.3 288.2,2438.7 278.7,2439.0 269.1,2439.5 259.6,2440.0 250.1,2440.3 240.5,2440.7 231.0,2441.0 221.5,2441.7 211.9,2442.3 202.4,2443.7 192.9,2445.0 183.4,2445.8 173.8,2446.7 164.3,2445.0 154.8,2444.7 145.2,2444.3 135.7,2443.8 126.2,2443.3 116.7,2444.2 107.1,2445.0 97.6,2445.8 88.1,2446.7 78.5,2446.7 69.0,2446.7" fill="#c84b9b" fill-opacity="0.2"/><polygon points="69.0,2186.7 78.5,2185.5 88.1,2184.3 97.6,2183.3 107.1,2182.3 116.7,2181.0 126.2,2179.0 135.7,2176.7 145.2,2171.0 154.8,2170.5 164.3,2170.0 173.8,2168.3 183.4,2165.0 192.9,2161.7 202.4,2157.7 211.9,2156.7 221.5,2154.3 231.0,2151.0 240.5,2149.0 250.1,2146.7 259.6,2145.0 269.1,2145.0 278.7,2146.7 288.2,2148.3 297.7,2147.7 307.2,2150.0 316.8,2151.7 326.3,2153.3 335.8,2155.0 345.4,2159.0 354.9,2156.7 364.4,2156.7 364.4,2389.0 354.9,2390.0 345.4,2390.0 335.8,2390.0 326.3,2390.0 316.8,2390.0 307.2,2391.2 297.7,2392.3 288.2,2393.7 278.7,2395.0 269.1,2397.0 259.6,2399.0 250.1,2400.3 240.5,2401.7 231.0,2403.7 221.5,2405.7 211.9,2408.3 202.4,2411.0 192.9,2413.8 183.4,2416.7 173.8,2417.5 164.3,2418.3 154.8,2419.2 145.2,2420.0 135.7,2420.8 126.2,2421.7 116.7,2422.5 107.1,2423.3 97.6,2424.2 88.1,2425.0 78.5,2425.8 69.0,2426.7" fill="#9048a0" fill-opacity="0.2"/><polyline points="69.0,2329.3 78.5,2328.5 88.1,2327.7 97.6,2326.0 107.1,2324.3 116.7,2323.3 126.2,2322.3 135.7,2321.2 145.2,2320.0 154.8,2319.5 164.3,2319.0 173.8,2317.3 183.4,2315.7 192.9,2313.7 202.4,2311.7 211.9,2309.7 221.5,2307.7 231.0,2306.7 240.5,2305.7 250.1,2305.0 259.6,2304.3 269.1,2304.3 278.7,2304.3 288.2,2304.7 297.7,2305.0 307.2,2305.5 316.8,2306.0 326.3,2306.3 335.8,2306.7 345.4,2306.7 354.9,2304.7 364.4,2302.7" fill="none" stroke="#fff" stroke-opacity="0.3" stroke-width="3.8000000000000003"/><polyline points="69.0,2329.3 78.5,2328.5 88.1,2327.7 97.6,2326.0 107.1,2324.3 116.7,2323.3 126.2,2322.3 135.7,2321.2 145.2,2320.0 154.8,2319.5 164.3,2319.0 173.8,2317.3 183.4,2315.7 192.9,2313.7 202.4,2311.7 211.9,2309.7 221.5,2307.7 231.0,2306.7 240.5,2305.7 250.1,2305.0 259.6,2304.3 269.1,2304.3 278.7,2304.3 288.2,2304.7 297.7,2305.0 307.2,2305.5 316.8,2306.0 326.3,2306.3 335.8,2306.7 345.4,2306.7 354.9,2304.7 364.4,2302.7" fill="none" stroke="#d0504a" stroke-width="1.6"/><polyline points="69.0,2332.3 78.5,2331.9 88.1,2331.4 97.6,2331.0 107.1,2330.4 116.7,2329.9 126.2,2329.3 135.7,2329.2 145.2,2329.0 154.8,2329.5 164.3,2330.0 173.8,2329.7 183.4,2329.3 192.9,2328.0 202.4,2326.7 211.9,2325.8 221.5,2325.0 231.0,2324.7 240.5,2324.3 250.1,2324.7 259.6,2325.0 269.1,2325.8 278.7,2326.7 288.2,2327.2 297.7,2327.7 307.2,2328.0 316.8,2328.3 326.3,2328.7 335.8,2329.0 345.4,2328.3 354.9,2326.3 364.4,2324.3" fill="none" stroke="#fff" stroke-opacity="0.3" stroke-width="4.0" stroke-dasharray="3,2.74"/><polyline points="69.0,2332.3 78.5,2331.9 88.1,2331.4 97.6,2331.0 107.1,2330.4 116.7,2329.9 126.2,2329.3 135.7,2329.2 145.2,2329.0 154.8,2329.5 164.3,2330.0 173.8,2329.7 183.4,2329.3 192.9,2328.0 202.4,2326.7 211.9,2325.8 221.5,2325.0 231.0,2324.7 240.5,2324.3 250.1,2324.7 259.6,2325.0 269.1,2325.8 278.7,2326.7 288.2,2327.2 297.7,2327.7 307.2,2328.0 316.8,2328.3 326.3,2328.7 335.8,2329.0 345.4,2328.3 354.9,2326.3 364.4,2324.3" fill="none" stroke="#16961e" stroke-width="1.8" stroke-dasharray="3,2.74"/><polyline points="69.0,2326.0 78.5,2324.2 88.1,2322.3 97.6,2320.3 107.1,2318.3 116.7,2316.7 126.2,2315.0 135.7,2313.7 145.2,2312.3 154.8,2311.2 164.3,2310.0 173.8,2307.5 183.4,2305.0 192.9,2301.7 202.4,2298.3 211.9,2295.3 221.5,2292.3 231.0,2290.0 240.5,2287.7 250.1,2286.0 259.6,2284.3 269.1,2283.8 278.7,2283.3 288.2,2283.3 297.7,2283.3 307.2,2283.8 316.8,2284.3 326.3,2285.2 335.8,2286.0 345.4,2286.0 354.9,2283.8 364.4,2281.7" fill="none" stroke="#fff" stroke-opacity="0.3" stroke-width="3.9000000000000004" stroke-dasharray="5.8,2.8"/><polyline points="69.0,2326.0 78.5,2324.2 88.1,2322.3 97.6,2320.3 107.1,2318.3 116.7,2316.7 126.2,2315.0 135.7,2313.7 145.2,2312.3 154.8,2311.2 164.3,2310.0 173.8,2307.5 183.4,2305.0 192.9,2301.7 202.4,2298.3 211.9,2295.3 221.5,2292.3 231.0,2290.0 240.5,2287.7 250.1,2286.0 259.6,2284.3 269.1,2283.8 278.7,2283.3 288.2,2283.3 297.7,2283.3 307.2,2283.8 316.8,2284.3 326.3,2285.2 335.8,2286.0 345.4,2286.0 354.9,2283.8 364.4,2281.7" fill="none" stroke="#3a6ee0" stroke-width="1.7" stroke-dasharray="5.8,2.8"/><path d="M54.3,2129.6 V2462.4 H379.2" fill="none" stroke="#111" stroke-width="1.5" stroke-linecap="butt" stroke-linejoin="miter"/><text x="69.0" y="2478.7" class="tl" text-anchor="middle">1990</text><text x="116.7" y="2478.7" class="tl" text-anchor="middle">1995</text><text x="164.3" y="2478.7" class="tl" text-anchor="middle">2000</text><text x="211.9" y="2478.7" class="tl" text-anchor="middle">2005</text><text x="259.6" y="2478.7" class="tl" text-anchor="middle">2010</text><text x="307.2" y="2478.7" class="tl" text-anchor="middle">2015</text><text x="354.9" y="2478.7" class="tl" text-anchor="middle">2020</text><text x="47.8" y="2223.3" class="tl" text-anchor="end">30</text><text x="47.8" y="2336.0" class="tl" text-anchor="end">20</text><text x="47.8" y="2448.6" class="tl" text-anchor="end">10</text><path d="M69.0,2462.4 v3.7 M116.7,2462.4 v3.7 M164.3,2462.4 v3.7 M211.9,2462.4 v3.7 M259.6,2462.4 v3.7 M307.2,2462.4 v3.7 M354.9,2462.4 v3.7 M54.3,2219.0 h-3.7 M54.3,2331.7 h-3.7 M54.3,2444.3 h-3.7" stroke="#333" stroke-width="1.3"/><text x="216.8" y="2121.5" class="tt" text-anchor="middle">Middle SDI</text></g><g><polygon points="422.3,2209.0 431.8,2209.5 441.4,2210.0 450.9,2209.0 460.4,2210.0 469.9,2211.0 479.5,2211.0 489.0,2211.0 498.5,2211.0 508.1,2211.0 517.6,2211.0 527.1,2210.0 536.7,2205.0 546.2,2202.5 555.7,2200.0 565.2,2197.7 574.8,2192.3 584.3,2192.3 593.8,2192.3 603.4,2190.0 612.9,2187.7 622.4,2186.7 632.0,2185.7 641.5,2184.0 651.0,2182.3 660.5,2185.0 670.1,2185.8 679.6,2186.7 689.1,2186.7 698.7,2186.7 708.2,2186.7 717.7,2178.3 717.7,2409.0 708.2,2410.0 698.7,2411.2 689.1,2412.3 679.6,2412.8 670.1,2413.3 660.5,2413.8 651.0,2414.3 641.5,2415.5 632.0,2416.7 622.4,2418.3 612.9,2420.0 603.4,2421.2 593.8,2422.3 584.3,2422.8 574.8,2423.3 565.2,2424.5 555.7,2425.7 546.2,2427.0 536.7,2428.3 527.1,2430.0 517.6,2431.7 508.1,2432.5 498.5,2433.3 489.0,2433.8 479.5,2434.3 469.9,2434.7 460.4,2435.0 450.9,2435.3 441.4,2435.7 431.8,2436.2 422.3,2436.7" fill="#262626" fill-opacity="0.2"/><polygon points="422.3,2211.0 431.8,2211.3 441.4,2211.7 450.9,2211.7 460.4,2211.7 469.9,2214.2 479.5,2216.7 489.0,2216.7 498.5,2216.7 508.1,2220.8 517.6,2225.0 527.1,2226.3 536.7,2227.7 546.2,2225.5 555.7,2223.3 565.2,2221.7 574.8,2220.0 584.3,2218.3 593.8,2216.7 603.4,2214.2 612.9,2211.7 622.4,2208.3 632.0,2205.0 641.5,2204.2 651.0,2203.3 660.5,2209.0 670.1,2204.3 679.6,2203.8 689.1,2203.3 698.7,2206.7 708.2,2201.7 717.7,2197.7 717.7,2431.7 708.2,2431.7 698.7,2433.3 689.1,2435.0 679.6,2435.8 670.1,2436.7 660.5,2437.5 651.0,2438.3 641.5,2439.2 632.0,2440.0 622.4,2440.8 612.9,2441.7 603.4,2442.0 593.8,2442.3 584.3,2442.8 574.8,2443.3 565.2,2444.2 555.7,2445.0 546.2,2445.8 536.7,2446.7 527.1,2446.2 517.6,2445.7 508.1,2445.3 498.5,2445.0 489.0,2444.7 479.5,2444.3 469.9,2444.3 460.4,2444.3 450.9,2444.7 441.4,2445.0 431.8,2445.3 422.3,2445.7" fill="#c84b9b" fill-opacity="0.2"/><polygon points="422.3,2201.0 431.8,2203.3 441.4,2201.7 450.9,2203.3 460.4,2200.0 469.9,2197.7 479.5,2197.7 489.0,2193.3 498.5,2191.0 508.1,2189.0 517.6,2187.7 527.1,2189.0 536.7,2185.0 546.2,2180.0 555.7,2175.7 565.2,2173.3 574.8,2165.7 584.3,2165.0 593.8,2163.3 603.4,2162.3 612.9,2160.0 622.4,2156.7 632.0,2155.0 641.5,2155.7 651.0,2155.0 660.5,2156.7 670.1,2156.7 679.6,2156.7 689.1,2161.0 698.7,2161.0 708.2,2150.0 717.7,2145.0 717.7,2393.3 708.2,2394.3 698.7,2395.5 689.1,2396.7 679.6,2396.7 670.1,2396.7 660.5,2397.5 651.0,2398.3 641.5,2399.2 632.0,2400.0 622.4,2401.2 612.9,2402.3 603.4,2403.7 593.8,2405.0 584.3,2406.3 574.8,2407.7 565.2,2410.0 555.7,2412.3 546.2,2414.5 536.7,2416.7 527.1,2418.3 517.6,2420.0 508.1,2421.7 498.5,2423.3 489.0,2425.0 479.5,2426.7 469.9,2428.3 460.4,2430.0 450.9,2430.5 441.4,2431.0 431.8,2431.7 422.3,2432.3" fill="#9048a0" fill-opacity="0.2"/><polyline points="422.3,2333.3 431.8,2333.3 441.4,2333.3 450.9,2333.3 460.4,2333.3 469.9,2333.3 479.5,2333.3 489.0,2332.8 498.5,2332.3 508.1,2332.0 517.6,2331.7 527.1,2330.8 536.7,2330.0 546.2,2327.5 555.7,2325.0 565.2,2322.0 574.8,2319.0 584.3,2317.8 593.8,2316.7 603.4,2315.8 612.9,2315.0 622.4,2313.3 632.0,2311.7 641.5,2310.3 651.0,2309.0 660.5,2308.7 670.1,2308.3 679.6,2308.3 689.1,2308.3 698.7,2307.7 708.2,2304.3 717.7,2301.0" fill="none" stroke="#fff" stroke-opacity="0.3" stroke-width="3.8000000000000003"/><polyline points="422.3,2333.3 431.8,2333.3 441.4,2333.3 450.9,2333.3 460.4,2333.3 469.9,2333.3 479.5,2333.3 489.0,2332.8 498.5,2332.3 508.1,2332.0 517.6,2331.7 527.1,2330.8 536.7,2330.0 546.2,2327.5 555.7,2325.0 565.2,2322.0 574.8,2319.0 584.3,2317.8 593.8,2316.7 603.4,2315.8 612.9,2315.0 622.4,2313.3 632.0,2311.7 641.5,2310.3 651.0,2309.0 660.5,2308.7 670.1,2308.3 679.6,2308.3 689.1,2308.3 698.7,2307.7 708.2,2304.3 717.7,2301.0" fill="none" stroke="#d0504a" stroke-width="1.6"/><polyline points="422.3,2339.0 431.8,2339.9 441.4,2340.8 450.9,2341.7 460.4,2342.2 469.9,2342.8 479.5,2343.3 489.0,2344.5 498.5,2345.7 508.1,2346.7 517.6,2347.7 527.1,2348.0 536.7,2348.3 546.2,2346.7 555.7,2345.0 565.2,2343.0 574.8,2341.0 584.3,2340.5 593.8,2340.0 603.4,2339.5 612.9,2339.0 622.4,2337.0 632.0,2335.0 641.5,2333.0 651.0,2331.0 660.5,2330.5 670.1,2330.0 679.6,2329.5 689.1,2329.0 698.7,2328.3 708.2,2325.0 717.7,2321.7" fill="none" stroke="#fff" stroke-opacity="0.3" stroke-width="4.0" stroke-dasharray="3,2.74"/><polyline points="422.3,2339.0 431.8,2339.9 441.4,2340.8 450.9,2341.7 460.4,2342.2 469.9,2342.8 479.5,2343.3 489.0,2344.5 498.5,2345.7 508.1,2346.7 517.6,2347.7 527.1,2348.0 536.7,2348.3 546.2,2346.7 555.7,2345.0 565.2,2343.0 574.8,2341.0 584.3,2340.5 593.8,2340.0 603.4,2339.5 612.9,2339.0 622.4,2337.0 632.0,2335.0 641.5,2333.0 651.0,2331.0 660.5,2330.5 670.1,2330.0 679.6,2329.5 689.1,2329.0 698.7,2328.3 708.2,2325.0 717.7,2321.7" fill="none" stroke="#16961e" stroke-width="1.8" stroke-dasharray="3,2.74"/><polyline points="422.3,2327.7 431.8,2327.3 441.4,2327.0 450.9,2326.7 460.4,2325.6 469.9,2324.4 479.5,2323.3 489.0,2321.7 498.5,2320.0 508.1,2317.5 517.6,2315.0 527.1,2312.5 536.7,2310.0 546.2,2306.7 555.7,2303.3 565.2,2300.0 574.8,2296.7 584.3,2295.8 593.8,2295.0 603.4,2294.2 612.9,2293.3 622.4,2291.7 632.0,2290.0 641.5,2288.3 651.0,2286.7 660.5,2286.7 670.1,2286.7 679.6,2287.2 689.1,2287.7 698.7,2286.7 708.2,2283.3 717.7,2280.0" fill="none" stroke="#fff" stroke-opacity="0.3" stroke-width="3.9000000000000004" stroke-dasharray="5.8,2.8"/><polyline points="422.3,2327.7 431.8,2327.3 441.4,2327.0 450.9,2326.7 460.4,2325.6 469.9,2324.4 479.5,2323.3 489.0,2321.7 498.5,2320.0 508.1,2317.5 517.6,2315.0 527.1,2312.5 536.7,2310.0 546.2,2306.7 555.7,2303.3 565.2,2300.0 574.8,2296.7 584.3,2295.8 593.8,2295.0 603.4,2294.2 612.9,2293.3 622.4,2291.7 632.0,2290.0 641.5,2288.3 651.0,2286.7 660.5,2286.7 670.1,2286.7 679.6,2287.2 689.1,2287.7 698.7,2286.7 708.2,2283.3 717.7,2280.0" fill="none" stroke="#3a6ee0" stroke-width="1.7" stroke-dasharray="5.8,2.8"/><path d="M407.7,2129.6 V2462.4 H732.5" fill="none" stroke="#111" stroke-width="1.5" stroke-linecap="butt" stroke-linejoin="miter"/><text x="422.3" y="2478.7" class="tl" text-anchor="middle">1990</text><text x="469.9" y="2478.7" class="tl" text-anchor="middle">1995</text><text x="517.6" y="2478.7" class="tl" text-anchor="middle">2000</text><text x="565.2" y="2478.7" class="tl" text-anchor="middle">2005</text><text x="612.9" y="2478.7" class="tl" text-anchor="middle">2010</text><text x="660.5" y="2478.7" class="tl" text-anchor="middle">2015</text><text x="708.2" y="2478.7" class="tl" text-anchor="middle">2020</text><text x="401.2" y="2222.0" class="tl" text-anchor="end">30</text><text x="401.2" y="2345.3" class="tl" text-anchor="end">20</text><path d="M422.3,2462.4 v3.7 M469.9,2462.4 v3.7 M517.6,2462.4 v3.7 M565.2,2462.4 v3.7 M612.9,2462.4 v3.7 M660.5,2462.4 v3.7 M708.2,2462.4 v3.7 M407.7,2217.7 h-3.7 M407.7,2341.0 h-3.7" stroke="#333" stroke-width="1.3"/><text x="570.1" y="2121.5" class="tt" text-anchor="middle">Low−middle SDI</text></g><g><polygon points="776.0,2192.3 785.5,2192.8 795.0,2193.3 804.5,2196.7 814.1,2193.3 823.6,2196.7 833.1,2196.7 842.6,2195.0 852.1,2196.7 861.6,2192.3 871.2,2191.0 880.7,2190.5 890.2,2190.0 899.7,2191.2 909.2,2192.3 918.7,2190.7 928.3,2189.0 937.8,2186.7 947.3,2184.3 956.8,2184.3 966.3,2184.3 975.8,2185.0 985.4,2185.7 994.9,2188.3 1004.4,2191.0 1013.9,2191.0 1023.4,2191.0 1032.9,2191.0 1042.4,2191.0 1052.0,2189.3 1061.5,2187.7 1071.0,2185.0 1071.0,2421.7 1061.5,2421.7 1052.0,2422.0 1042.4,2422.3 1032.9,2422.8 1023.4,2423.3 1013.9,2422.8 1004.4,2422.3 994.9,2420.3 985.4,2418.3 975.8,2418.7 966.3,2419.0 956.8,2418.7 947.3,2418.3 937.8,2419.7 928.3,2421.0 918.7,2421.3 909.2,2421.7 899.7,2422.0 890.2,2422.3 880.7,2423.3 871.2,2424.3 861.6,2424.7 852.1,2425.0 842.6,2425.8 833.1,2426.7 823.6,2427.5 814.1,2428.3 804.5,2428.0 795.0,2427.7 785.5,2428.0 776.0,2428.3" fill="#262626" fill-opacity="0.2"/><polygon points="776.0,2204.3 785.5,2205.5 795.0,2206.7 804.5,2207.8 814.1,2209.0 823.6,2210.0 833.1,2215.0 842.6,2212.3 852.1,2211.7 861.6,2211.0 871.2,2211.7 880.7,2213.0 890.2,2214.3 899.7,2214.3 909.2,2214.3 918.7,2211.7 928.3,2214.3 937.8,2210.0 947.3,2211.7 956.8,2205.7 966.3,2207.7 975.8,2209.7 985.4,2211.7 994.9,2213.3 1004.4,2211.0 1013.9,2211.0 1023.4,2213.3 1032.9,2208.3 1042.4,2211.0 1052.0,2207.7 1061.5,2203.3 1071.0,2200.0 1071.0,2441.7 1061.5,2442.3 1052.0,2445.0 1042.4,2444.3 1032.9,2444.3 1023.4,2444.3 1013.9,2444.3 1004.4,2444.3 994.9,2444.3 985.4,2444.3 975.8,2443.8 966.3,2443.3 956.8,2443.3 947.3,2443.3 937.8,2444.2 928.3,2445.0 918.7,2444.7 909.2,2444.3 899.7,2444.3 890.2,2444.3 880.7,2444.7 871.2,2445.0 861.6,2445.0 852.1,2445.0 842.6,2445.0 833.1,2445.8 823.6,2446.7 814.1,2445.0 804.5,2445.3 795.0,2445.7 785.5,2445.7 776.0,2445.7" fill="#c84b9b" fill-opacity="0.2"/><polygon points="776.0,2172.7 785.5,2173.0 795.0,2173.3 804.5,2175.7 814.1,2171.7 823.6,2175.0 833.1,2172.3 842.6,2166.7 852.1,2166.7 861.6,2161.0 871.2,2159.0 880.7,2155.7 890.2,2160.0 899.7,2155.0 909.2,2156.7 918.7,2153.3 928.3,2151.7 937.8,2148.3 947.3,2144.3 956.8,2145.7 966.3,2150.0 975.8,2151.7 985.4,2155.0 994.9,2155.7 1004.4,2159.0 1013.9,2159.0 1023.4,2163.3 1032.9,2162.3 1042.4,2163.3 1052.0,2165.0 1061.5,2161.0 1071.0,2157.7 1071.0,2403.3 1061.5,2403.3 1052.0,2403.8 1042.4,2404.3 1032.9,2403.8 1023.4,2403.3 1013.9,2401.7 1004.4,2400.0 994.9,2399.2 985.4,2398.3 975.8,2398.3 966.3,2398.3 956.8,2397.5 947.3,2396.7 937.8,2397.7 928.3,2398.0 918.7,2398.3 909.2,2400.0 899.7,2402.5 890.2,2405.0 880.7,2406.7 871.2,2408.3 861.6,2410.0 852.1,2411.7 842.6,2413.0 833.1,2414.3 823.6,2415.5 814.1,2416.7 804.5,2417.5 795.0,2418.3 785.5,2418.0 776.0,2417.7" fill="#9048a0" fill-opacity="0.2"/><polyline points="776.0,2323.3 785.5,2323.6 795.0,2323.8 804.5,2324.0 814.1,2324.2 823.6,2324.3 833.1,2323.0 842.6,2321.7 852.1,2320.3 861.6,2319.0 871.2,2318.3 880.7,2317.7 890.2,2316.7 899.7,2315.7 909.2,2314.5 918.7,2313.3 928.3,2312.5 937.8,2311.7 947.3,2311.2 956.8,2310.7 966.3,2311.7 975.8,2312.7 985.4,2313.5 994.9,2314.3 1004.4,2315.0 1013.9,2315.7 1023.4,2315.8 1032.9,2316.0 1042.4,2315.5 1052.0,2315.0 1061.5,2313.0 1071.0,2311.0" fill="none" stroke="#fff" stroke-opacity="0.3" stroke-width="3.8000000000000003"/><polyline points="776.0,2323.3 785.5,2323.6 795.0,2323.8 804.5,2324.0 814.1,2324.2 823.6,2324.3 833.1,2323.0 842.6,2321.7 852.1,2320.3 861.6,2319.0 871.2,2318.3 880.7,2317.7 890.2,2316.7 899.7,2315.7 909.2,2314.5 918.7,2313.3 928.3,2312.5 937.8,2311.7 947.3,2311.2 956.8,2310.7 966.3,2311.7 975.8,2312.7 985.4,2313.5 994.9,2314.3 1004.4,2315.0 1013.9,2315.7 1023.4,2315.8 1032.9,2316.0 1042.4,2315.5 1052.0,2315.0 1061.5,2313.0 1071.0,2311.0" fill="none" stroke="#d0504a" stroke-width="1.6"/><polyline points="776.0,2338.3 785.5,2339.2 795.0,2340.1 804.5,2341.0 814.1,2341.7 823.6,2342.3 833.1,2341.9 842.6,2341.4 852.1,2341.0 861.6,2341.3 871.2,2341.7 880.7,2341.7 890.2,2341.7 899.7,2341.7 909.2,2340.8 918.7,2340.0 928.3,2339.2 937.8,2338.3 947.3,2337.0 956.8,2335.7 966.3,2337.0 975.8,2338.3 985.4,2338.7 994.9,2339.0 1004.4,2339.2 1013.9,2339.3 1023.4,2339.2 1032.9,2339.0 1042.4,2338.3 1052.0,2337.7 1061.5,2335.0 1071.0,2332.3" fill="none" stroke="#fff" stroke-opacity="0.3" stroke-width="4.0" stroke-dasharray="3,2.74"/><polyline points="776.0,2338.3 785.5,2339.2 795.0,2340.1 804.5,2341.0 814.1,2341.7 823.6,2342.3 833.1,2341.9 842.6,2341.4 852.1,2341.0 861.6,2341.3 871.2,2341.7 880.7,2341.7 890.2,2341.7 899.7,2341.7 909.2,2340.8 918.7,2340.0 928.3,2339.2 937.8,2338.3 947.3,2337.0 956.8,2335.7 966.3,2337.0 975.8,2338.3 985.4,2338.7 994.9,2339.0 1004.4,2339.2 1013.9,2339.3 1023.4,2339.2 1032.9,2339.0 1042.4,2338.3 1052.0,2337.7 1061.5,2335.0 1071.0,2332.3" fill="none" stroke="#16961e" stroke-width="1.8" stroke-dasharray="3,2.74"/><polyline points="776.0,2307.3 785.5,2306.8 795.0,2306.2 804.5,2305.7 814.1,2305.0 823.6,2304.3 833.1,2302.2 842.6,2300.0 852.1,2297.8 861.6,2295.7 871.2,2294.0 880.7,2292.3 890.2,2290.7 899.7,2289.0 909.2,2287.8 918.7,2286.7 928.3,2285.5 937.8,2284.3 947.3,2283.5 956.8,2282.7 966.3,2283.8 975.8,2285.0 985.4,2286.3 994.9,2287.7 1004.4,2289.3 1013.9,2291.0 1023.4,2291.7 1032.9,2292.3 1042.4,2292.3 1052.0,2292.3 1061.5,2290.7 1071.0,2289.0" fill="none" stroke="#fff" stroke-opacity="0.3" stroke-width="3.9000000000000004" stroke-dasharray="5.8,2.8"/><polyline points="776.0,2307.3 785.5,2306.8 795.0,2306.2 804.5,2305.7 814.1,2305.0 823.6,2304.3 833.1,2302.2 842.6,2300.0 852.1,2297.8 861.6,2295.7 871.2,2294.0 880.7,2292.3 890.2,2290.7 899.7,2289.0 909.2,2287.8 918.7,2286.7 928.3,2285.5 937.8,2284.3 947.3,2283.5 956.8,2282.7 966.3,2283.8 975.8,2285.0 985.4,2286.3 994.9,2287.7 1004.4,2289.3 1013.9,2291.0 1023.4,2291.7 1032.9,2292.3 1042.4,2292.3 1052.0,2292.3 1061.5,2290.7 1071.0,2289.0" fill="none" stroke="#3a6ee0" stroke-width="1.7" stroke-dasharray="5.8,2.8"/><path d="M761.0,2129.6 V2462.4 H1085.7" fill="none" stroke="#111" stroke-width="1.5" stroke-linecap="butt" stroke-linejoin="miter"/><text x="776.0" y="2478.7" class="tl" text-anchor="middle">1990</text><text x="823.6" y="2478.7" class="tl" text-anchor="middle">1995</text><text x="871.2" y="2478.7" class="tl" text-anchor="middle">2000</text><text x="918.7" y="2478.7" class="tl" text-anchor="middle">2005</text><text x="966.3" y="2478.7" class="tl" text-anchor="middle">2010</text><text x="1013.9" y="2478.7" class="tl" text-anchor="middle">2015</text><text x="1061.5" y="2478.7" class="tl" text-anchor="middle">2020</text><text x="754.5" y="2141.0" class="tl" text-anchor="end">35</text><text x="754.5" y="2206.0" class="tl" text-anchor="end">30</text><text x="754.5" y="2271.6" class="tl" text-anchor="end">25</text><text x="754.5" y="2337.6" class="tl" text-anchor="end">20</text><text x="754.5" y="2403.3" class="tl" text-anchor="end">15</text><path d="M776.0,2462.4 v3.7 M823.6,2462.4 v3.7 M871.2,2462.4 v3.7 M918.7,2462.4 v3.7 M966.3,2462.4 v3.7 M1013.9,2462.4 v3.7 M1061.5,2462.4 v3.7 M761.0,2136.7 h-3.7 M761.0,2201.7 h-3.7 M761.0,2267.3 h-3.7 M761.0,2333.3 h-3.7 M761.0,2399.0 h-3.7" stroke="#333" stroke-width="1.3"/><text x="923.4" y="2121.5" class="tt" text-anchor="middle">Low SDI</text></g><text x="6" y="22.3" class="sl">A</text><text x="6" y="847.7" class="sl">B</text><text x="6" y="1707.8" class="sl">C</text><text transform="translate(22.0,400.0) rotate(-90)" x="0" y="0" class="yl" text-anchor="middle">Deaths</text><text transform="translate(21.0,1250.6) rotate(-90)" x="0" y="0" class="yl" text-anchor="middle">DALYs</text><text transform="translate(26.6,2113.9) rotate(-90)" x="0" y="0" class="yl" text-anchor="middle">YLDs</text><text x="567.0" y="794.9" class="xl" text-anchor="middle">Year</text><text x="567.9" y="1639.2" class="xl" text-anchor="middle">Year</text><text x="570.4" y="2495.3" class="xl" text-anchor="middle">Year</text><rect x="1105.0" y="380.3" width="21.1" height="21.0" fill="#d3d3d3"/><line x1="1106.0" y1="390.8" x2="1125.0" y2="390.8" stroke="#d0504a" stroke-width="1.7"/><text x="1135.2" y="395.1" class="lg">Both</text><rect x="1105.0" y="404.2" width="21.1" height="21.0" fill="#d3d3d3"/><line x1="1106.0" y1="414.7" x2="1125.0" y2="414.7" stroke="#16961e" stroke-width="1.7" stroke-dasharray="3,2.74"/><text x="1135.2" y="419.0" class="lg">Female</text><rect x="1105.0" y="428.1" width="21.1" height="21.0" fill="#d3d3d3"/><line x1="1106.0" y1="438.6" x2="1125.0" y2="438.6" stroke="#3a6ee0" stroke-width="1.7" stroke-dasharray="5.8,2.8"/><text x="1135.2" y="442.9" class="lg">Male</text><rect x="1104.0" y="1225.2" width="21.1" height="21.0" fill="#d3d3d3"/><line x1="1105.0" y1="1235.7" x2="1124.0" y2="1235.7" stroke="#d0504a" stroke-width="1.7"/><text x="1133.1" y="1240.0" class="lg">Both</text><rect x="1104.0" y="1249.1" width="21.1" height="21.0" fill="#d3d3d3"/><line x1="1105.0" y1="1259.6" x2="1124.0" y2="1259.6" stroke="#16961e" stroke-width="1.7" stroke-dasharray="3,2.74"/><text x="1133.1" y="1263.9" class="lg">Female</text><rect x="1104.0" y="1273.0" width="21.1" height="21.0" fill="#d3d3d3"/><line x1="1105.0" y1="1283.5" x2="1124.0" y2="1283.5" stroke="#3a6ee0" stroke-width="1.7" stroke-dasharray="5.8,2.8"/><text x="1133.1" y="1287.8" class="lg">Male</text><rect x="1110.1" y="2081.1" width="21.1" height="21.0" fill="#d3d3d3"/><line x1="1111.1" y1="2091.6" x2="1130.1" y2="2091.6" stroke="#d0504a" stroke-width="1.7"/><text x="1140.7" y="2095.9" class="lg">Both</text><rect x="1110.1" y="2105.0" width="21.1" height="21.0" fill="#d3d3d3"/><line x1="1111.1" y1="2115.5" x2="1130.1" y2="2115.5" stroke="#16961e" stroke-width="1.7" stroke-dasharray="3,2.74"/><text x="1140.7" y="2119.8" class="lg">Female</text><rect x="1110.1" y="2128.9" width="21.1" height="21.0" fill="#d3d3d3"/><line x1="1111.1" y1="2139.4" x2="1130.1" y2="2139.4" stroke="#3a6ee0" stroke-width="1.7" stroke-dasharray="5.8,2.8"/><text x="1140.7" y="2143.7" class="lg">Male</text></svg>
</body></html>
